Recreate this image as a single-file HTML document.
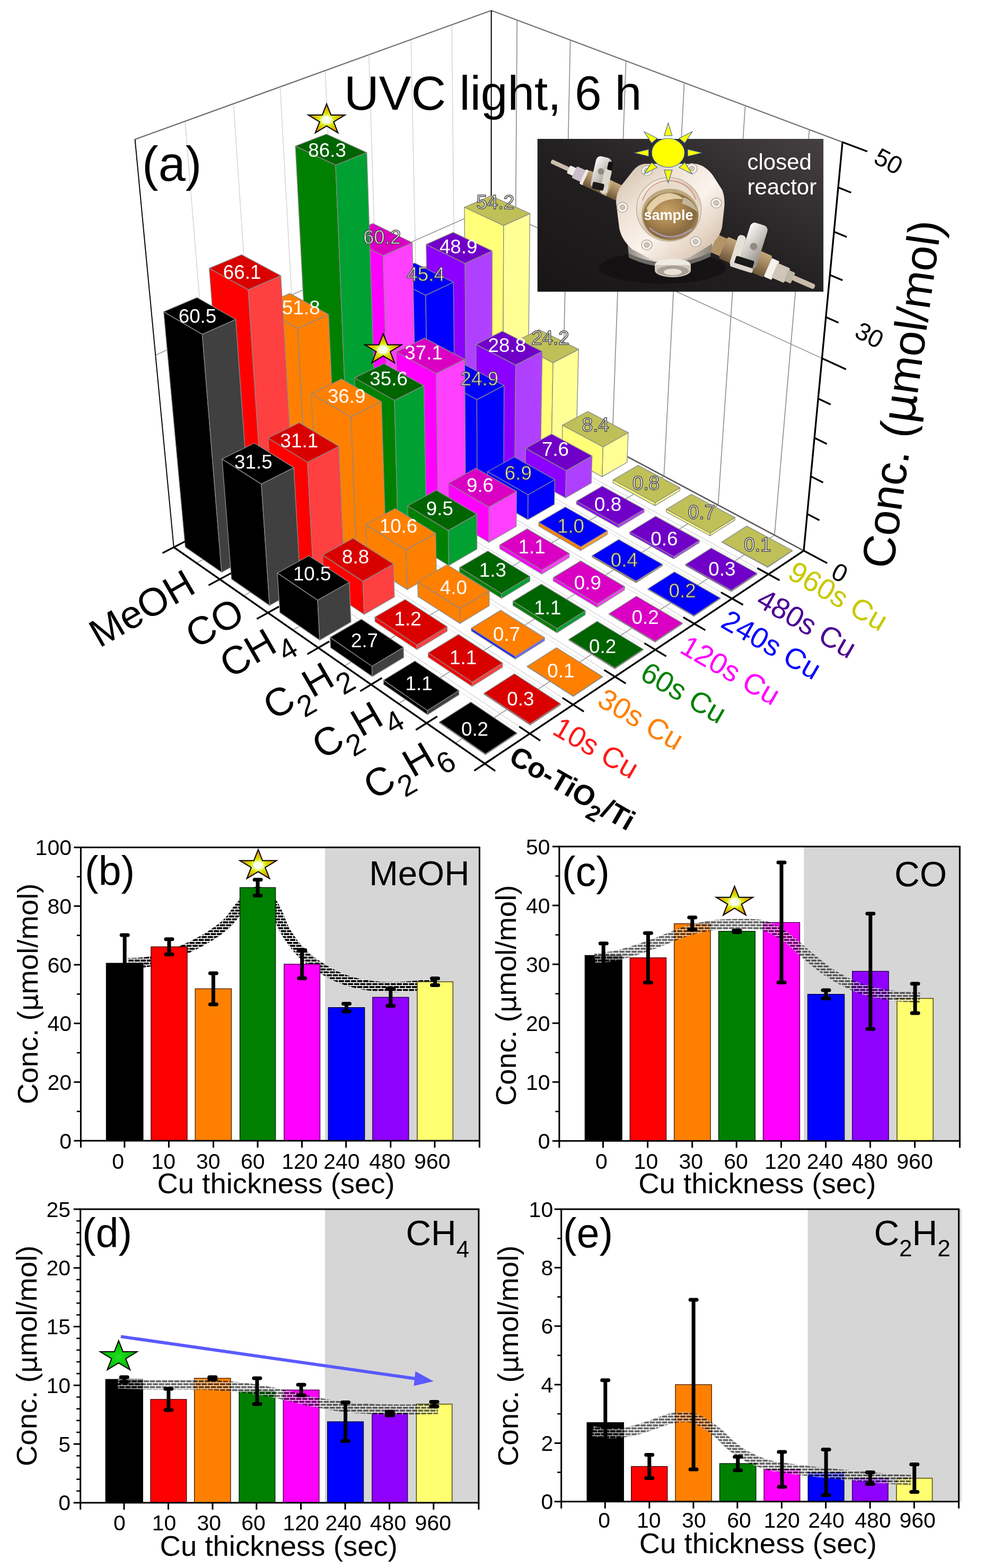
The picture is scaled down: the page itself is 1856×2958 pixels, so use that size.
<!DOCTYPE html>
<html><head><meta charset="utf-8"><title>Figure</title>
<style>
html,body{margin:0;padding:0;background:#fff;}
body{width:1856px;height:2958px;overflow:hidden;}
svg{display:block;}
text{font-family:"Liberation Sans",sans-serif;}
</style></head><body>
<svg width="1856" height="2958" viewBox="0 0 1856 2958">
<rect width="1856" height="2958" fill="#fff"/>
<defs>
<pattern id="brickB" width="11.5" height="11.1" patternUnits="userSpaceOnUse">
<rect width="11.5" height="11.1" fill="#fff"/>
<rect x="0.8" y="0.9" width="9.9" height="3.75" fill="#000"/>
<rect x="-4.95" y="6.45" width="9.9" height="3.75" fill="#000"/>
<rect x="6.55" y="6.45" width="9.9" height="3.75" fill="#000"/>
</pattern>
<pattern id="brickG" width="11.5" height="11.1" patternUnits="userSpaceOnUse">
<rect x="0" y="0" width="11.5" height="0.9" fill="#fff" fill-opacity="0.66"/>
<rect x="0" y="4.65" width="11.5" height="1.8" fill="#fff" fill-opacity="0.66"/>
<rect x="0" y="10.2" width="11.5" height="0.9" fill="#fff" fill-opacity="0.66"/>
<rect x="0" y="0.9" width="0.8" height="3.75" fill="#fff" fill-opacity="0.66"/>
<rect x="10.7" y="0.9" width="0.8" height="3.75" fill="#fff" fill-opacity="0.66"/>
<rect x="4.95" y="6.45" width="1.6" height="3.75" fill="#fff" fill-opacity="0.66"/>
<rect x="0.8" y="0.9" width="9.9" height="3.75" fill="#000" fill-opacity="0.6"/>
<rect x="0" y="6.45" width="4.95" height="3.75" fill="#000" fill-opacity="0.6"/>
<rect x="6.55" y="6.45" width="4.95" height="3.75" fill="#000" fill-opacity="0.6"/>
</pattern>
<radialGradient id="starY" cx="0.5" cy="0.55" r="0.5">
<stop offset="0" stop-color="#fbfff0"/><stop offset="0.22" stop-color="#f8ffe8"/><stop offset="0.42" stop-color="#d8e800"/><stop offset="0.7" stop-color="#e0b800"/><stop offset="1" stop-color="#f07800"/>
</radialGradient>
<radialGradient id="starG" cx="0.5" cy="0.55" r="0.5">
<stop offset="0" stop-color="#20e020"/><stop offset="1" stop-color="#00b400"/>
</radialGradient>
</defs>
<g id="walls">
<line x1="254.6" y1="262.9" x2="926.7" y2="19.7" stroke="#6e6e6e" stroke-width="2.2" />
<line x1="926.7" y1="19.7" x2="1589.1" y2="268.1" stroke="#6e6e6e" stroke-width="2.2" />
<line x1="411.0" y1="989.6" x2="349.1" y2="228.7" stroke="#b0b0b0" stroke-width="1.6" stroke-dasharray="1.2 1.2"/>
<line x1="491.5" y1="948.1" x2="440.3" y2="195.7" stroke="#b0b0b0" stroke-width="1.6" stroke-dasharray="1.2 1.2"/>
<line x1="569.6" y1="908.0" x2="528.4" y2="163.8" stroke="#b0b0b0" stroke-width="1.6" stroke-dasharray="1.2 1.2"/>
<line x1="645.3" y1="869.0" x2="613.5" y2="133.0" stroke="#b0b0b0" stroke-width="1.6" stroke-dasharray="1.2 1.2"/>
<line x1="718.7" y1="831.3" x2="695.7" y2="103.3" stroke="#b0b0b0" stroke-width="1.6" stroke-dasharray="1.2 1.2"/>
<line x1="790.0" y1="794.6" x2="775.2" y2="74.5" stroke="#b0b0b0" stroke-width="1.6" stroke-dasharray="1.2 1.2"/>
<line x1="859.2" y1="759.0" x2="852.2" y2="46.6" stroke="#b0b0b0" stroke-width="1.6" stroke-dasharray="1.2 1.2"/>
<line x1="970.2" y1="747.8" x2="975.3" y2="37.9" stroke="#8c8c8c" stroke-width="1.6" />
<line x1="1060.5" y1="796.0" x2="1075.7" y2="75.6" stroke="#8c8c8c" stroke-width="1.6" />
<line x1="1154.4" y1="846.1" x2="1180.7" y2="114.9" stroke="#8c8c8c" stroke-width="1.6" />
<line x1="1252.3" y1="898.3" x2="1290.6" y2="156.2" stroke="#8c8c8c" stroke-width="1.6" />
<line x1="1354.4" y1="952.7" x2="1405.7" y2="199.3" stroke="#8c8c8c" stroke-width="1.6" />
<line x1="1460.9" y1="1009.5" x2="1526.5" y2="244.7" stroke="#8c8c8c" stroke-width="1.6" />
<line x1="293.3" y1="669.9" x2="926.6" y2="390.0" stroke="#8c8c8c" stroke-width="1.4" />
<line x1="926.6" y1="390.0" x2="1550.4" y2="675.9" stroke="#8c8c8c" stroke-width="1.4" />
<line x1="926.4" y1="724.4" x2="1516.0" y2="1038.9" stroke="#5a5a5a" stroke-width="2.6" />
<line x1="327.8" y1="1032.4" x2="926.4" y2="724.4" stroke="#6e6e6e" stroke-width="2" />
<line x1="926.4" y1="724.4" x2="926.7" y2="19.7" stroke="#000" stroke-width="2" />
<line x1="327.8" y1="1032.4" x2="254.6" y2="262.9" stroke="#000" stroke-width="1.9" />
<line x1="370.7" y1="1062.2" x2="970.2" y2="747.8" stroke="#8c8c8c" stroke-width="1.4" />
<line x1="459.5" y1="1124.0" x2="1060.5" y2="796.0" stroke="#8c8c8c" stroke-width="1.4" />
<line x1="552.3" y1="1188.6" x2="1154.4" y2="846.1" stroke="#8c8c8c" stroke-width="1.4" />
<line x1="649.6" y1="1256.3" x2="1252.3" y2="898.3" stroke="#8c8c8c" stroke-width="1.4" />
<line x1="751.7" y1="1327.3" x2="1354.4" y2="952.7" stroke="#8c8c8c" stroke-width="1.4" />
<line x1="858.8" y1="1401.9" x2="1460.9" y2="1009.5" stroke="#8c8c8c" stroke-width="1.4" />
<line x1="411.0" y1="989.6" x2="999.3" y2="1383.9" stroke="#b0b0b0" stroke-width="1.4" stroke-dasharray="1.2 1.2"/>
<line x1="404.4" y1="993.0" x2="992.6" y2="1388.4" stroke="#c8c8c8" stroke-width="1.2" stroke-dasharray="1.2 1.2"/>
<line x1="491.5" y1="948.1" x2="1081.0" y2="1329.3" stroke="#b0b0b0" stroke-width="1.4" stroke-dasharray="1.2 1.2"/>
<line x1="485.2" y1="951.4" x2="1074.6" y2="1333.6" stroke="#c8c8c8" stroke-width="1.2" stroke-dasharray="1.2 1.2"/>
<line x1="569.6" y1="908.0" x2="1159.9" y2="1276.6" stroke="#b0b0b0" stroke-width="1.4" stroke-dasharray="1.2 1.2"/>
<line x1="563.5" y1="911.2" x2="1153.7" y2="1280.8" stroke="#c8c8c8" stroke-width="1.2" stroke-dasharray="1.2 1.2"/>
<line x1="645.3" y1="869.0" x2="1236.1" y2="1225.8" stroke="#b0b0b0" stroke-width="1.4" stroke-dasharray="1.2 1.2"/>
<line x1="639.3" y1="872.1" x2="1230.1" y2="1229.8" stroke="#c8c8c8" stroke-width="1.2" stroke-dasharray="1.2 1.2"/>
<line x1="718.7" y1="831.3" x2="1309.6" y2="1176.7" stroke="#b0b0b0" stroke-width="1.4" stroke-dasharray="1.2 1.2"/>
<line x1="712.9" y1="834.2" x2="1303.8" y2="1180.5" stroke="#c8c8c8" stroke-width="1.2" stroke-dasharray="1.2 1.2"/>
<line x1="790.0" y1="794.6" x2="1380.7" y2="1129.2" stroke="#b0b0b0" stroke-width="1.4" stroke-dasharray="1.2 1.2"/>
<line x1="784.4" y1="797.5" x2="1375.1" y2="1132.9" stroke="#c8c8c8" stroke-width="1.2" stroke-dasharray="1.2 1.2"/>
<line x1="859.2" y1="759.0" x2="1449.4" y2="1083.3" stroke="#b0b0b0" stroke-width="1.4" stroke-dasharray="1.2 1.2"/>
<line x1="853.7" y1="761.8" x2="1444.0" y2="1086.9" stroke="#c8c8c8" stroke-width="1.2" stroke-dasharray="1.2 1.2"/>
</g>
<g id="bars">
<polygon points="878.5,758.8 948.4,797.0 949.9,425.3 876.0,391.0" fill="#ffff78" stroke="#8a8a8a" stroke-width="1.3" stroke-linejoin="round" />
<polygon points="948.4,797.0 995.5,771.9 999.6,402.8 949.9,425.3" fill="#ffff96" stroke="#8a8a8a" stroke-width="1.3" stroke-linejoin="round" />
<polygon points="876.0,391.0 949.9,425.3 999.6,402.8 925.7,369.3" fill="#c0c058" stroke="#8a8a8a" stroke-width="1.3" stroke-linejoin="round" />
<polygon points="809.6,794.3 879.5,833.7 877.2,496.9 803.8,461.1" fill="#8c00ff" stroke="#8a8a8a" stroke-width="1.3" stroke-linejoin="round" />
<polygon points="879.5,833.7 927.9,807.9 928.2,473.4 877.2,496.9" fill="#b040ff" stroke="#8a8a8a" stroke-width="1.3" stroke-linejoin="round" />
<polygon points="803.8,461.1 877.2,496.9 928.2,473.4 854.8,438.4" fill="#7000c8" stroke="#8a8a8a" stroke-width="1.3" stroke-linejoin="round" />
<polygon points="738.7,831.0 808.4,871.6 802.8,556.9 729.8,519.7" fill="#0000ff" stroke="#8a8a8a" stroke-width="1.3" stroke-linejoin="round" />
<polygon points="808.4,871.6 858.4,844.9 855.2,532.5 802.8,556.9" fill="#0000ff" stroke="#8a8a8a" stroke-width="1.3" stroke-linejoin="round" />
<polygon points="729.8,519.7 802.8,556.9 855.2,532.5 782.1,496.1" fill="#0000ff" stroke="#8a8a8a" stroke-width="1.3" stroke-linejoin="round" />
<polygon points="665.5,868.8 735.2,910.6 722.5,482.2 648.6,445.0" fill="#ff00ff" stroke="#8a8a8a" stroke-width="1.3" stroke-linejoin="round" />
<polygon points="735.2,910.6 786.7,883.1 777.6,457.8 722.5,482.2" fill="#ff40ff" stroke="#8a8a8a" stroke-width="1.3" stroke-linejoin="round" />
<polygon points="648.6,445.0 722.5,482.2 777.6,457.8 703.5,421.5" fill="#d900c3" stroke="#8a8a8a" stroke-width="1.3" stroke-linejoin="round" />
<polygon points="590.2,907.7 659.6,950.8 633.0,311.4 557.2,275.6" fill="#008000" stroke="#8a8a8a" stroke-width="1.3" stroke-linejoin="round" />
<polygon points="659.6,950.8 712.7,922.5 691.8,287.9 633.0,311.4" fill="#00a032" stroke="#8a8a8a" stroke-width="1.3" stroke-linejoin="round" />
<polygon points="557.2,275.6 633.0,311.4 691.8,287.9 615.8,253.0" fill="#006400" stroke="#8a8a8a" stroke-width="1.3" stroke-linejoin="round" />
<polygon points="512.4,947.8 581.6,992.4 561.4,619.6 488.6,579.2" fill="#ff8000" stroke="#8a8a8a" stroke-width="1.3" stroke-linejoin="round" />
<polygon points="581.6,992.4 636.5,963.1 619.7,593.1 561.4,619.6" fill="#ff8000" stroke="#8a8a8a" stroke-width="1.3" stroke-linejoin="round" />
<polygon points="488.6,579.2 561.4,619.6 619.7,593.1 546.6,553.6" fill="#ff8000" stroke="#8a8a8a" stroke-width="1.3" stroke-linejoin="round" />
<polygon points="432.2,989.3 501.1,1035.2 468.2,546.6 394.6,506.1" fill="#ff0000" stroke="#8a8a8a" stroke-width="1.3" stroke-linejoin="round" />
<polygon points="501.1,1035.2 557.8,1005.1 529.6,520.1 468.2,546.6" fill="#ff4040" stroke="#8a8a8a" stroke-width="1.3" stroke-linejoin="round" />
<polygon points="394.6,506.1 468.2,546.6 529.6,520.1 455.7,480.5" fill="#d90000" stroke="#8a8a8a" stroke-width="1.3" stroke-linejoin="round" />
<polygon points="349.4,1032.1 418.0,1079.5 381.5,630.6 308.7,588.1" fill="#000000" stroke="#8a8a8a" stroke-width="1.3" stroke-linejoin="round" />
<polygon points="418.0,1079.5 476.5,1048.4 444.6,602.7 381.5,630.6" fill="#404040" stroke="#8a8a8a" stroke-width="1.3" stroke-linejoin="round" />
<polygon points="308.7,588.1 381.5,630.6 444.6,602.7 371.5,561.3" fill="#000000" stroke="#8a8a8a" stroke-width="1.3" stroke-linejoin="round" />
<polygon points="967.4,807.3 1040.1,847.1 1043.1,684.2 968.5,646.0" fill="#ffff78" stroke="#8a8a8a" stroke-width="1.3" stroke-linejoin="round" />
<polygon points="1040.1,847.1 1087.2,821.0 1091.3,659.2 1043.1,684.2" fill="#ffff96" stroke="#8a8a8a" stroke-width="1.3" stroke-linejoin="round" />
<polygon points="968.5,646.0 1043.1,684.2 1091.3,659.2 1016.7,621.8" fill="#c0c058" stroke="#8a8a8a" stroke-width="1.3" stroke-linejoin="round" />
<polygon points="898.4,844.4 971.1,885.4 972.6,688.6 897.7,649.6" fill="#8c00ff" stroke="#8a8a8a" stroke-width="1.3" stroke-linejoin="round" />
<polygon points="971.1,885.4 1019.6,858.5 1022.6,663.0 972.6,688.6" fill="#b040ff" stroke="#8a8a8a" stroke-width="1.3" stroke-linejoin="round" />
<polygon points="897.7,649.6 972.6,688.6 1022.6,663.0 947.6,624.9" fill="#7000c8" stroke="#8a8a8a" stroke-width="1.3" stroke-linejoin="round" />
<polygon points="827.3,882.6 900.0,924.9 899.4,753.8 824.8,713.3" fill="#0000ff" stroke="#8a8a8a" stroke-width="1.3" stroke-linejoin="round" />
<polygon points="900.0,924.9 950.0,897.1 950.7,727.2 899.4,753.8" fill="#0000ff" stroke="#8a8a8a" stroke-width="1.3" stroke-linejoin="round" />
<polygon points="824.8,713.3 899.4,753.8 950.7,727.2 876.1,687.6" fill="#0000ff" stroke="#8a8a8a" stroke-width="1.3" stroke-linejoin="round" />
<polygon points="754.0,921.9 826.6,965.6 822.7,704.7 747.2,663.8" fill="#ff00ff" stroke="#8a8a8a" stroke-width="1.3" stroke-linejoin="round" />
<polygon points="826.6,965.6 878.2,936.9 876.4,677.9 822.7,704.7" fill="#ff40ff" stroke="#8a8a8a" stroke-width="1.3" stroke-linejoin="round" />
<polygon points="747.2,663.8 822.7,704.7 876.4,677.9 800.9,637.9" fill="#d900c3" stroke="#8a8a8a" stroke-width="1.3" stroke-linejoin="round" />
<polygon points="678.5,962.5 750.9,1007.6 744.0,755.2 668.8,712.8" fill="#008000" stroke="#8a8a8a" stroke-width="1.3" stroke-linejoin="round" />
<polygon points="750.9,1007.6 804.2,978.0 799.5,727.4 744.0,755.2" fill="#00a032" stroke="#8a8a8a" stroke-width="1.3" stroke-linejoin="round" />
<polygon points="668.8,712.8 744.0,755.2 799.5,727.4 724.1,686.0" fill="#006400" stroke="#8a8a8a" stroke-width="1.3" stroke-linejoin="round" />
<polygon points="600.4,1004.4 672.7,1050.9 662.1,786.3 587.0,742.7" fill="#ff8000" stroke="#8a8a8a" stroke-width="1.3" stroke-linejoin="round" />
<polygon points="672.7,1050.9 727.7,1020.4 719.5,757.7 662.1,786.3" fill="#ff8000" stroke="#8a8a8a" stroke-width="1.3" stroke-linejoin="round" />
<polygon points="587.0,742.7 662.1,786.3 719.5,757.7 644.3,715.0" fill="#ff8000" stroke="#8a8a8a" stroke-width="1.3" stroke-linejoin="round" />
<polygon points="519.9,1047.7 591.9,1095.8 580.0,872.0 505.6,826.3" fill="#ff0000" stroke="#8a8a8a" stroke-width="1.3" stroke-linejoin="round" />
<polygon points="591.9,1095.8 648.8,1064.2 639.0,842.0 580.0,872.0" fill="#ff4040" stroke="#8a8a8a" stroke-width="1.3" stroke-linejoin="round" />
<polygon points="505.6,826.3 580.0,872.0 639.0,842.0 564.4,797.4" fill="#d90000" stroke="#8a8a8a" stroke-width="1.3" stroke-linejoin="round" />
<polygon points="436.6,1092.4 508.4,1142.1 493.0,913.1 418.9,865.9" fill="#000000" stroke="#8a8a8a" stroke-width="1.3" stroke-linejoin="round" />
<polygon points="508.4,1142.1 567.2,1109.5 554.1,882.1 493.0,913.1" fill="#404040" stroke="#8a8a8a" stroke-width="1.3" stroke-linejoin="round" />
<polygon points="418.9,865.9 493.0,913.1 554.1,882.1 479.7,836.0" fill="#000000" stroke="#8a8a8a" stroke-width="1.3" stroke-linejoin="round" />
<polygon points="1059.9,857.9 1135.7,899.4 1137.5,843.0 1061.0,802.1" fill="#ffff78" stroke="#8a8a8a" stroke-width="1.3" stroke-linejoin="round" />
<polygon points="1135.7,899.4 1182.7,872.2 1184.9,816.2 1137.5,843.0" fill="#ffff96" stroke="#8a8a8a" stroke-width="1.3" stroke-linejoin="round" />
<polygon points="1061.0,802.1 1137.5,843.0 1184.9,816.2 1108.5,776.2" fill="#c0c058" stroke="#8a8a8a" stroke-width="1.3" stroke-linejoin="round" />
<polygon points="990.9,896.5 1066.7,939.3 1067.9,887.9 991.4,845.6" fill="#8c00ff" stroke="#8a8a8a" stroke-width="1.3" stroke-linejoin="round" />
<polygon points="1066.7,939.3 1115.2,911.2 1116.7,860.1 1067.9,887.9" fill="#b040ff" stroke="#8a8a8a" stroke-width="1.3" stroke-linejoin="round" />
<polygon points="991.4,845.6 1067.9,887.9 1116.7,860.1 1040.3,818.8" fill="#7000c8" stroke="#8a8a8a" stroke-width="1.3" stroke-linejoin="round" />
<polygon points="919.7,936.3 995.6,980.4 996.1,933.3 919.7,889.7" fill="#0000ff" stroke="#8a8a8a" stroke-width="1.3" stroke-linejoin="round" />
<polygon points="995.6,980.4 1045.6,951.5 1046.5,904.7 996.1,933.3" fill="#0000ff" stroke="#8a8a8a" stroke-width="1.3" stroke-linejoin="round" />
<polygon points="919.7,889.7 996.1,933.3 1046.5,904.7 970.1,862.0" fill="#0000ff" stroke="#8a8a8a" stroke-width="1.3" stroke-linejoin="round" />
<polygon points="846.4,977.4 922.1,1022.9 922.1,956.6 845.6,911.7" fill="#ff00ff" stroke="#8a8a8a" stroke-width="1.3" stroke-linejoin="round" />
<polygon points="922.1,1022.9 973.8,993.0 974.3,927.1 922.1,956.6" fill="#ff40ff" stroke="#8a8a8a" stroke-width="1.3" stroke-linejoin="round" />
<polygon points="845.6,911.7 922.1,956.6 974.3,927.1 897.7,883.3" fill="#d900c3" stroke="#8a8a8a" stroke-width="1.3" stroke-linejoin="round" />
<polygon points="770.6,1019.8 846.3,1066.8 845.5,1000.6 769.0,954.2" fill="#008000" stroke="#8a8a8a" stroke-width="1.3" stroke-linejoin="round" />
<polygon points="846.3,1066.8 899.6,1035.9 899.4,970.1 845.5,1000.6" fill="#00a032" stroke="#8a8a8a" stroke-width="1.3" stroke-linejoin="round" />
<polygon points="769.0,954.2 845.5,1000.6 899.4,970.1 822.9,924.8" fill="#006400" stroke="#8a8a8a" stroke-width="1.3" stroke-linejoin="round" />
<polygon points="692.4,1063.6 767.9,1112.2 766.0,1037.4 689.6,989.6" fill="#ff8000" stroke="#8a8a8a" stroke-width="1.3" stroke-linejoin="round" />
<polygon points="767.9,1112.2 823.0,1080.3 821.9,1006.0 766.0,1037.4" fill="#ff8000" stroke="#8a8a8a" stroke-width="1.3" stroke-linejoin="round" />
<polygon points="689.6,989.6 766.0,1037.4 821.9,1006.0 745.3,959.3" fill="#ff8000" stroke="#8a8a8a" stroke-width="1.3" stroke-linejoin="round" />
<polygon points="611.5,1108.8 686.9,1159.0 684.5,1096.6 608.4,1046.9" fill="#ff0000" stroke="#8a8a8a" stroke-width="1.3" stroke-linejoin="round" />
<polygon points="686.9,1159.0 743.9,1126.1 742.1,1064.0 684.5,1096.6" fill="#ff4040" stroke="#8a8a8a" stroke-width="1.3" stroke-linejoin="round" />
<polygon points="608.4,1046.9 684.5,1096.6 742.1,1064.0 665.9,1015.5" fill="#d90000" stroke="#8a8a8a" stroke-width="1.3" stroke-linejoin="round" />
<polygon points="527.9,1155.6 603.0,1207.6 599.1,1132.1 523.1,1080.9" fill="#000000" stroke="#8a8a8a" stroke-width="1.3" stroke-linejoin="round" />
<polygon points="603.0,1207.6 662.0,1173.4 658.8,1098.5 599.1,1132.1" fill="#404040" stroke="#8a8a8a" stroke-width="1.3" stroke-linejoin="round" />
<polygon points="523.1,1080.9 599.1,1132.1 658.8,1098.5 582.7,1048.5" fill="#000000" stroke="#8a8a8a" stroke-width="1.3" stroke-linejoin="round" />
<polygon points="1156.2,910.6 1235.3,953.9 1235.6,948.5 1156.4,905.3" fill="#ffff78" stroke="#8a8a8a" stroke-width="1.3" stroke-linejoin="round" />
<polygon points="1235.3,953.9 1282.2,925.5 1282.5,920.1 1235.6,948.5" fill="#ffff96" stroke="#8a8a8a" stroke-width="1.3" stroke-linejoin="round" />
<polygon points="1156.4,905.3 1235.6,948.5 1282.5,920.1 1203.5,877.9" fill="#c0c058" stroke="#8a8a8a" stroke-width="1.3" stroke-linejoin="round" />
<polygon points="1087.3,950.9 1166.4,995.5 1166.6,990.1 1087.4,945.5" fill="#8c00ff" stroke="#8a8a8a" stroke-width="1.3" stroke-linejoin="round" />
<polygon points="1166.4,995.5 1214.9,966.2 1215.1,960.8 1166.6,990.1" fill="#b040ff" stroke="#8a8a8a" stroke-width="1.3" stroke-linejoin="round" />
<polygon points="1087.4,945.5 1166.6,990.1 1215.1,960.8 1136.0,917.2" fill="#7000c8" stroke="#8a8a8a" stroke-width="1.3" stroke-linejoin="round" />
<polygon points="1016.2,992.4 1095.3,1038.5 1095.5,1031.6 1016.3,985.6" fill="#ff8000" stroke="#8a8a8a" stroke-width="1.3" stroke-linejoin="round" />
<polygon points="1095.3,1038.5 1145.4,1008.3 1145.6,1001.4 1095.5,1031.6" fill="#ff9a30" stroke="#8a8a8a" stroke-width="1.3" stroke-linejoin="round" />
<polygon points="1016.3,985.6 1095.5,1031.6 1145.6,1001.4 1066.4,956.5" fill="#0000ff" stroke="#8a8a8a" stroke-width="1.3" stroke-linejoin="round" />
<polygon points="942.7,1035.3 1021.9,1082.9 1022.0,1075.3 942.7,1027.8" fill="#ff00ff" stroke="#8a8a8a" stroke-width="1.3" stroke-linejoin="round" />
<polygon points="1021.9,1082.9 1073.6,1051.7 1073.8,1044.1 1022.0,1075.3" fill="#ff40ff" stroke="#8a8a8a" stroke-width="1.3" stroke-linejoin="round" />
<polygon points="942.7,1027.8 1022.0,1075.3 1073.8,1044.1 994.5,997.6" fill="#d900c3" stroke="#8a8a8a" stroke-width="1.3" stroke-linejoin="round" />
<polygon points="866.9,1079.6 946.0,1128.8 946.0,1119.7 866.8,1070.6" fill="#008000" stroke="#8a8a8a" stroke-width="1.3" stroke-linejoin="round" />
<polygon points="946.0,1128.8 999.4,1096.5 999.5,1087.5 946.0,1119.7" fill="#00a032" stroke="#8a8a8a" stroke-width="1.3" stroke-linejoin="round" />
<polygon points="866.8,1070.6 946.0,1119.7 999.5,1087.5 920.2,1039.5" fill="#006400" stroke="#8a8a8a" stroke-width="1.3" stroke-linejoin="round" />
<polygon points="788.5,1125.4 867.5,1176.2 867.3,1147.9 787.8,1097.3" fill="#ff8000" stroke="#8a8a8a" stroke-width="1.3" stroke-linejoin="round" />
<polygon points="867.5,1176.2 922.7,1142.8 922.7,1114.7 867.3,1147.9" fill="#ff8000" stroke="#8a8a8a" stroke-width="1.3" stroke-linejoin="round" />
<polygon points="787.8,1097.3 867.3,1147.9 922.7,1114.7 843.3,1065.3" fill="#ff8000" stroke="#8a8a8a" stroke-width="1.3" stroke-linejoin="round" />
<polygon points="707.4,1172.7 786.3,1225.3 786.1,1216.8 707.1,1164.2" fill="#ff0000" stroke="#8a8a8a" stroke-width="1.3" stroke-linejoin="round" />
<polygon points="786.3,1225.3 843.4,1190.8 843.3,1182.3 786.1,1216.8" fill="#ff4040" stroke="#8a8a8a" stroke-width="1.3" stroke-linejoin="round" />
<polygon points="707.1,1164.2 786.1,1216.8 843.3,1182.3 764.2,1131.0" fill="#d90000" stroke="#8a8a8a" stroke-width="1.3" stroke-linejoin="round" />
<polygon points="623.5,1221.7 702.2,1276.2 701.5,1256.7 622.5,1202.4" fill="#000000" stroke="#8a8a8a" stroke-width="1.3" stroke-linejoin="round" />
<polygon points="702.2,1276.2 761.4,1240.4 760.9,1221.1 701.5,1256.7" fill="#404040" stroke="#8a8a8a" stroke-width="1.3" stroke-linejoin="round" />
<polygon points="622.5,1202.4 701.5,1256.7 760.9,1221.1 681.7,1168.1" fill="#000000" stroke="#8a8a8a" stroke-width="1.3" stroke-linejoin="round" />
<polygon points="1256.8,965.6 1339.3,1010.7 1339.6,1006.0 1257.0,960.9" fill="#ffff78" stroke="#8a8a8a" stroke-width="1.3" stroke-linejoin="round" />
<polygon points="1339.3,1010.7 1386.0,981.1 1386.4,976.4 1339.6,1006.0" fill="#ffff96" stroke="#8a8a8a" stroke-width="1.3" stroke-linejoin="round" />
<polygon points="1257.0,960.9 1339.6,1006.0 1386.4,976.4 1303.9,932.3" fill="#c0c058" stroke="#8a8a8a" stroke-width="1.3" stroke-linejoin="round" />
<polygon points="1187.9,1007.6 1270.6,1054.2 1270.8,1050.1 1188.1,1003.5" fill="#8c00ff" stroke="#8a8a8a" stroke-width="1.3" stroke-linejoin="round" />
<polygon points="1270.6,1054.2 1318.9,1023.6 1319.2,1019.5 1270.8,1050.1" fill="#b040ff" stroke="#8a8a8a" stroke-width="1.3" stroke-linejoin="round" />
<polygon points="1188.1,1003.5 1270.8,1050.1 1319.2,1019.5 1236.5,974.0" fill="#7000c8" stroke="#8a8a8a" stroke-width="1.3" stroke-linejoin="round" />
<polygon points="1116.9,1051.0 1199.6,1099.1 1199.7,1096.4 1116.9,1048.2" fill="#c08040" stroke="#8a8a8a" stroke-width="1.3" stroke-linejoin="round" />
<polygon points="1199.6,1099.1 1249.5,1067.5 1249.7,1064.8 1199.7,1096.4" fill="#c0a090" stroke="#8a8a8a" stroke-width="1.3" stroke-linejoin="round" />
<polygon points="1116.9,1048.2 1199.7,1096.4 1249.7,1064.8 1167.0,1017.8" fill="#0000ff" stroke="#8a8a8a" stroke-width="1.3" stroke-linejoin="round" />
<polygon points="1043.4,1095.8 1126.3,1145.6 1126.5,1139.3 1043.6,1089.6" fill="#ff00ff" stroke="#8a8a8a" stroke-width="1.3" stroke-linejoin="round" />
<polygon points="1126.3,1145.6 1177.9,1112.9 1178.1,1106.6 1126.5,1139.3" fill="#ff40ff" stroke="#8a8a8a" stroke-width="1.3" stroke-linejoin="round" />
<polygon points="1043.6,1089.6 1126.5,1139.3 1178.1,1106.6 1095.3,1058.1" fill="#d900c3" stroke="#8a8a8a" stroke-width="1.3" stroke-linejoin="round" />
<polygon points="967.5,1142.1 1050.4,1193.6 1050.5,1185.8 967.6,1134.4" fill="#008000" stroke="#8a8a8a" stroke-width="1.3" stroke-linejoin="round" />
<polygon points="1050.4,1193.6 1103.8,1159.8 1104.0,1152.1 1050.5,1185.8" fill="#00a032" stroke="#8a8a8a" stroke-width="1.3" stroke-linejoin="round" />
<polygon points="967.6,1134.4 1050.5,1185.8 1104.0,1152.1 1021.1,1101.9" fill="#006400" stroke="#8a8a8a" stroke-width="1.3" stroke-linejoin="round" />
<polygon points="889.0,1190.1 971.9,1243.3 971.9,1238.3 889.0,1185.1" fill="#2020ff" stroke="#8a8a8a" stroke-width="1.3" stroke-linejoin="round" />
<polygon points="971.9,1243.3 1027.1,1208.4 1027.2,1203.4 971.9,1238.3" fill="#6a6aff" stroke="#8a8a8a" stroke-width="1.3" stroke-linejoin="round" />
<polygon points="889.0,1185.1 971.9,1238.3 1027.2,1203.4 944.3,1151.4" fill="#ff8000" stroke="#8a8a8a" stroke-width="1.3" stroke-linejoin="round" />
<polygon points="807.8,1239.7 890.5,1294.8 890.5,1286.9 807.6,1231.8" fill="#ff0000" stroke="#8a8a8a" stroke-width="1.3" stroke-linejoin="round" />
<polygon points="890.5,1294.8 947.8,1258.6 947.8,1250.7 890.5,1286.9" fill="#ff4040" stroke="#8a8a8a" stroke-width="1.3" stroke-linejoin="round" />
<polygon points="807.6,1231.8 890.5,1286.9 947.8,1250.7 864.9,1196.9" fill="#d90000" stroke="#8a8a8a" stroke-width="1.3" stroke-linejoin="round" />
<polygon points="723.6,1291.0 806.3,1348.2 806.1,1340.2 723.4,1283.1" fill="#000000" stroke="#8a8a8a" stroke-width="1.3" stroke-linejoin="round" />
<polygon points="806.3,1348.2 865.6,1310.6 865.5,1302.7 806.1,1340.2" fill="#404040" stroke="#8a8a8a" stroke-width="1.3" stroke-linejoin="round" />
<polygon points="723.4,1283.1 806.1,1340.2 865.5,1302.7 782.7,1247.0" fill="#000000" stroke="#8a8a8a" stroke-width="1.3" stroke-linejoin="round" />
<polygon points="1361.7,1023.0 1447.9,1070.1 1447.9,1069.4 1361.7,1022.3" fill="#ffff78" stroke="#8a8a8a" stroke-width="1.3" stroke-linejoin="round" />
<polygon points="1447.9,1070.1 1494.5,1039.2 1494.5,1038.5 1447.9,1069.4" fill="#ffff96" stroke="#8a8a8a" stroke-width="1.3" stroke-linejoin="round" />
<polygon points="1361.7,1022.3 1447.9,1069.4 1494.5,1038.5 1408.5,992.4" fill="#c0c058" stroke="#8a8a8a" stroke-width="1.3" stroke-linejoin="round" />
<polygon points="1293.0,1066.9 1379.5,1115.6 1379.6,1113.5 1293.2,1064.8" fill="#8c00ff" stroke="#8a8a8a" stroke-width="1.3" stroke-linejoin="round" />
<polygon points="1379.5,1115.6 1427.6,1083.6 1427.8,1081.5 1379.6,1113.5" fill="#b040ff" stroke="#8a8a8a" stroke-width="1.3" stroke-linejoin="round" />
<polygon points="1293.2,1064.8 1379.6,1113.5 1427.8,1081.5 1341.5,1034.0" fill="#7000c8" stroke="#8a8a8a" stroke-width="1.3" stroke-linejoin="round" />
<polygon points="1222.1,1112.2 1308.7,1162.6 1308.8,1161.2 1222.2,1110.8" fill="#0000ff" stroke="#8a8a8a" stroke-width="1.3" stroke-linejoin="round" />
<polygon points="1308.7,1162.6 1358.5,1129.5 1358.6,1128.1 1308.8,1161.2" fill="#0000ff" stroke="#8a8a8a" stroke-width="1.3" stroke-linejoin="round" />
<polygon points="1222.2,1110.8 1308.8,1161.2 1358.6,1128.1 1272.1,1078.9" fill="#0000ff" stroke="#8a8a8a" stroke-width="1.3" stroke-linejoin="round" />
<polygon points="1148.8,1159.1 1235.5,1211.2 1235.6,1209.8 1148.8,1157.7" fill="#ff00ff" stroke="#8a8a8a" stroke-width="1.3" stroke-linejoin="round" />
<polygon points="1235.5,1211.2 1287.0,1177.0 1287.1,1175.6 1235.6,1209.8" fill="#ff40ff" stroke="#8a8a8a" stroke-width="1.3" stroke-linejoin="round" />
<polygon points="1148.8,1157.7 1235.6,1209.8 1287.1,1175.6 1200.4,1124.7" fill="#d900c3" stroke="#8a8a8a" stroke-width="1.3" stroke-linejoin="round" />
<polygon points="1072.9,1207.6 1159.7,1261.6 1159.8,1260.1 1073.0,1206.2" fill="#008000" stroke="#8a8a8a" stroke-width="1.3" stroke-linejoin="round" />
<polygon points="1159.7,1261.6 1213.1,1226.1 1213.1,1224.7 1159.8,1260.1" fill="#00a032" stroke="#8a8a8a" stroke-width="1.3" stroke-linejoin="round" />
<polygon points="1073.0,1206.2 1159.8,1260.1 1213.1,1224.7 1126.3,1172.1" fill="#006400" stroke="#8a8a8a" stroke-width="1.3" stroke-linejoin="round" />
<polygon points="994.4,1257.8 1081.3,1313.7 1081.3,1313.0 994.4,1257.1" fill="#ff8000" stroke="#8a8a8a" stroke-width="1.3" stroke-linejoin="round" />
<polygon points="1081.3,1313.7 1136.5,1277.0 1136.5,1276.3 1081.3,1313.0" fill="#ff8000" stroke="#8a8a8a" stroke-width="1.3" stroke-linejoin="round" />
<polygon points="994.4,1257.1 1081.3,1313.0 1136.5,1276.3 1049.7,1221.8" fill="#ff8000" stroke="#8a8a8a" stroke-width="1.3" stroke-linejoin="round" />
<polygon points="913.1,1309.8 999.9,1367.7 999.9,1365.6 913.1,1307.7" fill="#ff0000" stroke="#8a8a8a" stroke-width="1.3" stroke-linejoin="round" />
<polygon points="999.9,1367.7 1057.2,1329.7 1057.2,1327.5 999.9,1365.6" fill="#ff4040" stroke="#8a8a8a" stroke-width="1.3" stroke-linejoin="round" />
<polygon points="913.1,1307.7 999.9,1365.6 1057.2,1327.5 970.3,1271.1" fill="#d90000" stroke="#8a8a8a" stroke-width="1.3" stroke-linejoin="round" />
<polygon points="828.8,1363.7 915.6,1423.8 915.6,1422.3 828.7,1362.3" fill="#000000" stroke="#8a8a8a" stroke-width="1.3" stroke-linejoin="round" />
<polygon points="915.6,1423.8 974.9,1384.3 974.9,1382.9 915.6,1422.3" fill="#404040" stroke="#8a8a8a" stroke-width="1.3" stroke-linejoin="round" />
<polygon points="828.7,1362.3 915.6,1422.3 974.9,1382.9 888.1,1324.4" fill="#000000" stroke="#8a8a8a" stroke-width="1.3" stroke-linejoin="round" />
</g>
<g id="axes" stroke-linecap="butt">
<line x1="327.8" y1="1032.4" x2="914.4" y2="1440.6" stroke="#000" stroke-width="3.3" />
<line x1="914.4" y1="1440.6" x2="1516.0" y2="1038.9" stroke="#000" stroke-width="3.3" />
<line x1="1516.0" y1="1038.9" x2="1589.1" y2="268.1" stroke="#000" stroke-width="3.3" />
<line x1="349.2" y1="1021.4" x2="306.5" y2="1043.4" stroke="#000" stroke-width="3.3" />
<line x1="435.7" y1="1081.4" x2="393.4" y2="1104.1" stroke="#000" stroke-width="3.3" />
<line x1="526.3" y1="1144.2" x2="484.4" y2="1167.6" stroke="#000" stroke-width="3.3" />
<line x1="621.1" y1="1210.0" x2="579.6" y2="1234.1" stroke="#000" stroke-width="3.3" />
<line x1="720.5" y1="1278.9" x2="679.5" y2="1303.9" stroke="#000" stroke-width="3.3" />
<line x1="824.8" y1="1351.3" x2="784.3" y2="1377.0" stroke="#000" stroke-width="3.3" />
<line x1="934.4" y1="1427.3" x2="894.5" y2="1453.9" stroke="#000" stroke-width="3.3" />
<line x1="914.4" y1="1440.6" x2="934.1" y2="1454.3" stroke="#000" stroke-width="3.3" />
<line x1="979.3" y1="1370.6" x2="1019.2" y2="1397.3" stroke="#000" stroke-width="3.3" />
<line x1="1060.9" y1="1316.3" x2="1101.2" y2="1342.3" stroke="#000" stroke-width="3.3" />
<line x1="1139.6" y1="1263.9" x2="1180.3" y2="1289.3" stroke="#000" stroke-width="3.3" />
<line x1="1215.5" y1="1213.4" x2="1256.6" y2="1238.2" stroke="#000" stroke-width="3.3" />
<line x1="1288.9" y1="1164.5" x2="1330.4" y2="1188.8" stroke="#000" stroke-width="3.3" />
<line x1="1359.8" y1="1117.4" x2="1401.6" y2="1141.0" stroke="#000" stroke-width="3.3" />
<line x1="1428.4" y1="1071.7" x2="1470.5" y2="1094.8" stroke="#000" stroke-width="3.3" />
<line x1="1515.1" y1="1038.4" x2="1560.1" y2="1062.4" stroke="#000" stroke-width="3.3" />
<line x1="1521.6" y1="969.0" x2="1545.6" y2="981.5" stroke="#000" stroke-width="3.3" />
<line x1="1528.4" y1="898.1" x2="1552.5" y2="910.3" stroke="#000" stroke-width="3.3" />
<line x1="1535.2" y1="825.6" x2="1559.5" y2="837.5" stroke="#000" stroke-width="3.3" />
<line x1="1542.3" y1="751.4" x2="1566.7" y2="763.0" stroke="#000" stroke-width="3.3" />
<line x1="1549.5" y1="675.5" x2="1595.8" y2="696.7" stroke="#000" stroke-width="3.3" />
<line x1="1556.9" y1="597.8" x2="1581.5" y2="608.7" stroke="#000" stroke-width="3.3" />
<line x1="1564.4" y1="518.2" x2="1589.2" y2="528.8" stroke="#000" stroke-width="3.3" />
<line x1="1572.1" y1="436.8" x2="1597.1" y2="447.0" stroke="#000" stroke-width="3.3" />
<line x1="1580.0" y1="353.3" x2="1605.2" y2="363.2" stroke="#000" stroke-width="3.3" />
<line x1="1588.1" y1="267.8" x2="1635.9" y2="285.7" stroke="#000" stroke-width="3.3" />
</g>
<g id="barlabels" font-size="36.8" text-anchor="middle" fill="#fff">
<text x="934.3" y="393.8" stroke="#4a4a4a" stroke-width="1.5">54.2</text>
<text x="864.7" y="478.3">48.9</text>
<text x="803.1" y="529.8" stroke="#4a4a4a" stroke-width="1.5">45.4</text>
<text x="720.7" y="460.2" stroke="#4a4a4a" stroke-width="1.5">60.2</text>
<text x="617.1" y="295.7">86.3</text>
<text x="567.8" y="592.7">51.8</text>
<text x="456.6" y="526.1">66.1</text>
<text x="372.5" y="608.9">60.5</text>
<text x="1038.0" y="650.3" stroke="#4a4a4a" stroke-width="1.5">24.2</text>
<text x="956.3" y="663.7">28.8</text>
<text x="904.3" y="726.8" stroke="#4a4a4a" stroke-width="1.5">24.9</text>
<text x="799.1" y="678.2">37.1</text>
<text x="733.1" y="726.9">35.6</text>
<text x="653.7" y="760.3">36.9</text>
<text x="564.3" y="844.4">31.1</text>
<text x="477.9" y="884.2">31.5</text>
<text x="1123.4" y="813.8" stroke="#4a4a4a" stroke-width="1.5">8.4</text>
<text x="1047.5" y="860.3">7.6</text>
<text x="977.3" y="904.6" stroke="#4a4a4a" stroke-width="1.5">6.9</text>
<text x="905.5" y="928.2">9.6</text>
<text x="829.3" y="972.3">9.5</text>
<text x="751.5" y="1005.2">10.6</text>
<text x="670.6" y="1062.8">8.8</text>
<text x="588.7" y="1094.9">10.5</text>
<text x="1218.5" y="924.3" stroke="#4a4a4a" stroke-width="1.5">0.8</text>
<text x="1146.7" y="964.2">0.8</text>
<text x="1076.5" y="1004.6" stroke="#4a4a4a" stroke-width="1.5">1.0</text>
<text x="1003.1" y="1044.2">1.1</text>
<text x="929.3" y="1088.4">1.3</text>
<text x="855.4" y="1120.9">4.0</text>
<text x="769.2" y="1179.8">1.2</text>
<text x="687.5" y="1220.7">2.7</text>
<text x="1323.4" y="978.5" stroke="#4a4a4a" stroke-width="1.5">0.7</text>
<text x="1252.8" y="1029.1">0.6</text>
<text x="1177.3" y="1068.9" stroke="#4a4a4a" stroke-width="1.5">0.4</text>
<text x="1108.4" y="1112.2">0.9</text>
<text x="1032.8" y="1159.0">1.1</text>
<text x="955.7" y="1208.6">0.7</text>
<text x="873.7" y="1253.0">1.1</text>
<text x="790.2" y="1301.8">1.1</text>
<text x="1428.8" y="1039.5" stroke="#4a4a4a" stroke-width="1.5">0.1</text>
<text x="1361.9" y="1085.5">0.3</text>
<text x="1287.1" y="1126.5" stroke="#4a4a4a" stroke-width="1.5">0.2</text>
<text x="1217.1" y="1176.7">0.2</text>
<text x="1136.7" y="1231.5">0.2</text>
<text x="1057.8" y="1277.8">0.1</text>
<text x="981.9" y="1330.7">0.3</text>
<text x="895.5" y="1387.5">0.2</text>
</g>
<g id="xlabels" font-size="74" text-anchor="end">
<text transform="translate(372.7,1116.2) rotate(-30)">MeOH</text>
<text transform="translate(465.5,1169.5) rotate(-30)">CO</text>
<text transform="translate(553.3,1211.8) rotate(-30)">CH<tspan font-size="56" dy="25">4</tspan></text>
<text transform="translate(662.0,1275.1) rotate(-30)">C<tspan font-size="56" dy="25">2</tspan><tspan dy="-25">H</tspan><tspan font-size="56" dy="25">2</tspan></text>
<text transform="translate(754.2,1349.3) rotate(-30)">C<tspan font-size="56" dy="25">2</tspan><tspan dy="-25">H</tspan><tspan font-size="56" dy="25">4</tspan></text>
<text transform="translate(851.4,1425.6) rotate(-30)">C<tspan font-size="56" dy="25">2</tspan><tspan dy="-25">H</tspan><tspan font-size="56" dy="25">6</tspan></text>
</g>
<g id="ylabels" font-size="55" text-anchor="start">
<text transform="translate(956.9,1437.4) rotate(30)" fill="#000" font-weight="bold" font-size="53.5">Co-TiO<tspan font-size="42" dy="17">2</tspan><tspan dy="-17">/Ti</tspan></text>
<text transform="translate(1039.2,1383.6) rotate(30)" fill="#ff1a1a">10s Cu</text>
<text transform="translate(1123.8,1329.7) rotate(30)" fill="#ff8000">30s Cu</text>
<text transform="translate(1204.6,1279.7) rotate(30)" fill="#008000">60s Cu</text>
<text transform="translate(1279.5,1229.7) rotate(30)" fill="#ff00ff">120s Cu</text>
<text transform="translate(1356.8,1181.4) rotate(30)" fill="#0000ff">240s Cu</text>
<text transform="translate(1423.4,1141.3) rotate(30)" fill="#4b0092">480s Cu</text>
<text transform="translate(1482.7,1089.6) rotate(30)" fill="#c8c800">960s Cu</text>
</g>
<g id="zlabels" font-size="47" text-anchor="middle">
<text transform="translate(1676.0,304.0) rotate(28)" y="16.5">50</text>
<text transform="translate(1640.0,632.0) rotate(28)" y="16.5">30</text>
<text transform="translate(1584.0,1080.0) rotate(28)" y="16.5">0</text>
</g>
<text transform="translate(1684,1075) rotate(-82)" font-size="86">Conc. (<tspan font-family="DejaVu Sans, Liberation Sans, sans-serif" font-size="86">μ</tspan>mol/mol)</text>
<text x="268" y="340.5" font-size="92">(a)</text>
<text x="649" y="206.5" font-size="91">UVC light, 6 h</text>
<defs>
<linearGradient id="phbg" x1="0" y1="1" x2="1" y2="0"><stop offset="0" stop-color="#171516"/><stop offset="0.5" stop-color="#232021"/><stop offset="0.85" stop-color="#3b3738"/><stop offset="1" stop-color="#454041"/></linearGradient>
<linearGradient id="flange" x1="0" y1="0" x2="1" y2="1"><stop offset="0" stop-color="#cdbba8"/><stop offset="0.3" stop-color="#efe2d6"/><stop offset="0.55" stop-color="#fbf4ee"/><stop offset="0.8" stop-color="#e2d0bf"/><stop offset="1" stop-color="#b9a48e"/></linearGradient>
<linearGradient id="bezel" x1="0" y1="0" x2="1" y2="1"><stop offset="0" stop-color="#fffaf4"/><stop offset="0.5" stop-color="#d9c6b0"/><stop offset="1" stop-color="#f4ece4"/></linearGradient>
<radialGradient id="win" cx="0.42" cy="0.4" r="0.65"><stop offset="0" stop-color="#c9a468"/><stop offset="0.45" stop-color="#a88450"/><stop offset="0.8" stop-color="#86693f"/><stop offset="1" stop-color="#a8916a"/></radialGradient>
<linearGradient id="brass" x1="0" y1="0" x2="0" y2="1"><stop offset="0" stop-color="#c2a67c"/><stop offset="0.45" stop-color="#a38660"/><stop offset="1" stop-color="#6b5638"/></linearGradient>
<linearGradient id="steel" x1="0" y1="0" x2="1" y2="1"><stop offset="0" stop-color="#ffffff"/><stop offset="0.5" stop-color="#c9c4be"/><stop offset="1" stop-color="#8b8680"/></linearGradient>
<linearGradient id="body" x1="0" y1="0" x2="1" y2="0"><stop offset="0" stop-color="#8f8a84"/><stop offset="0.35" stop-color="#e8e4de"/><stop offset="0.7" stop-color="#b9b2a8"/><stop offset="1" stop-color="#8a8278"/></linearGradient>
<clipPath id="phclip"><rect x="1013.5" y="262" width="539.8" height="288.6"/></clipPath>
</defs>
<g id="photo" clip-path="url(#phclip)">
<rect x="1013.5" y="262" width="539.8" height="288.6" fill="url(#phbg)"/>
<ellipse cx="1250" cy="505" rx="120" ry="30" fill="#0c0b0b" opacity="0.55"/>
<g transform="translate(1039.6,304) rotate(25)">
<rect x="0" y="-4" width="42" height="8" rx="3" fill="#cbbcae"/>
<rect x="36" y="-8" width="14" height="16" rx="2" fill="#f0ece8"/>
<rect x="48" y="-12" width="22" height="24" rx="3" fill="#c9bccb"/>
<rect x="66" y="-14" width="8" height="30" rx="2" fill="#efe9e2"/>
<rect x="72" y="-15" width="76" height="31" rx="4" fill="url(#brass)"/>
<rect x="112" y="-15" width="10" height="31" fill="#c9b184" opacity="0.8"/>
<g transform="rotate(-12 95 0)">
<rect x="84" y="-50" width="30" height="62" rx="9" fill="url(#steel)"/>
<rect x="104" y="-30" width="14" height="48" rx="6" fill="#ddd6cc"/>
<rect x="88" y="0" width="22" height="13" rx="3" fill="#1a1a1a"/>
<rect x="108" y="-44" width="9" height="16" rx="3" fill="#111"/>
<circle cx="98" cy="-22" r="6" fill="#8e8a84"/>
</g>
</g>
<g transform="translate(1343,440) rotate(23.5)">
<rect x="0" y="-4" width="14" height="38" rx="2" fill="#f4efe8"/>
<rect x="10" y="-2" width="26" height="36" rx="3" fill="#b39468"/>
<rect x="30" y="-6" width="92" height="44" rx="4" fill="url(#brass)"/>
<rect x="62" y="-6" width="8" height="44" fill="#8a7048" opacity="0.7"/>
<g transform="rotate(-6 80 10)">
<rect x="66" y="-52" width="34" height="86" rx="9" fill="url(#steel)"/>
<rect x="50" y="-22" width="16" height="62" rx="7" fill="#e6e0d6"/>
<rect x="58" y="18" width="36" height="16" rx="3" fill="#1a1a1a"/>
<rect x="52" y="32" width="44" height="9" rx="3" fill="#dcd6ce"/>
<circle cx="84" cy="-8" r="7" fill="#908a82"/>
</g>
<rect x="122" y="-2" width="16" height="38" rx="2" fill="#f6f2ec"/>
<rect x="136" y="2" width="26" height="30" rx="3" fill="#cfc6b8"/>
<rect x="160" y="6" width="14" height="22" rx="2" fill="#bdb3a3"/>
<rect x="172" y="11" width="46" height="10" rx="4" fill="#c9bba9"/>
</g>
<path d="M1183,452 L1186,484 Q1262,520 1340,482 L1345,452 Z" fill="url(#body)"/>
<path d="M1186,478 Q1262,514 1340,476 L1340,484 Q1262,522 1186,486 Z" fill="#6e6a66"/>
<path d="M1216,309 L1312,309 Q1330,312 1344,330 L1362,358 Q1368,372 1366,392 L1362,428 Q1358,448 1340,462 L1300,486 Q1262,498 1226,488 L1192,470 Q1172,452 1168,430 L1162,382 Q1162,364 1172,350 L1194,322 Q1204,310 1216,309 Z" fill="url(#flange)"/>
<ellipse cx="1261.7" cy="395" rx="61" ry="60" fill="url(#bezel)" stroke="#bfae98" stroke-width="1.5"/>
<ellipse cx="1262" cy="397" rx="55" ry="54" fill="#e9dccd"/>
<path d="M1212,378 A52,50 0 0 1 1312,376" fill="none" stroke="#c0504a" stroke-width="1"/>
<ellipse cx="1264" cy="405" rx="54" ry="49" fill="#bda77f"/>
<ellipse cx="1265" cy="408" rx="52" ry="45" fill="url(#win)"/>
<path d="M1220,392 Q1236,366 1262,364 Q1280,366 1290,376 Q1262,372 1244,384 Q1230,394 1224,410 Z" fill="#f3e2bf" opacity="0.8"/>
<path d="M1290,372 Q1310,380 1316,400 Q1300,388 1286,384 Z" fill="#d8d0c0" opacity="0.7"/>
<path d="M1225,430 Q1262,462 1305,432" fill="none" stroke="#b9a6d8" stroke-width="2.5" opacity="0.8"/>
<ellipse cx="1174" cy="391" rx="10" ry="9.5" fill="#f6f2ec" stroke="#b5a999" stroke-width="1.5"/>
<ellipse cx="1174" cy="391" rx="5" ry="4.6" fill="#cfc6b8" stroke="#a89c8c" stroke-width="1"/>
<ellipse cx="1220" cy="462" rx="10" ry="9.5" fill="#f6f2ec" stroke="#b5a999" stroke-width="1.5"/>
<ellipse cx="1220" cy="462" rx="5" ry="4.6" fill="#cfc6b8" stroke="#a89c8c" stroke-width="1"/>
<ellipse cx="1312" cy="456" rx="10" ry="9.5" fill="#f6f2ec" stroke="#b5a999" stroke-width="1.5"/>
<ellipse cx="1312" cy="456" rx="5" ry="4.6" fill="#cfc6b8" stroke="#a89c8c" stroke-width="1"/>
<ellipse cx="1351" cy="383" rx="10" ry="9.5" fill="#f6f2ec" stroke="#b5a999" stroke-width="1.5"/>
<ellipse cx="1351" cy="383" rx="5" ry="4.6" fill="#cfc6b8" stroke="#a89c8c" stroke-width="1"/>
<ellipse cx="1305" cy="318" rx="10" ry="9.5" fill="#f6f2ec" stroke="#b5a999" stroke-width="1.5"/>
<ellipse cx="1305" cy="318" rx="5" ry="4.6" fill="#cfc6b8" stroke="#a89c8c" stroke-width="1"/>
<ellipse cx="1220" cy="322" rx="10" ry="9.5" fill="#f6f2ec" stroke="#b5a999" stroke-width="1.5"/>
<ellipse cx="1220" cy="322" rx="5" ry="4.6" fill="#cfc6b8" stroke="#a89c8c" stroke-width="1"/>
<ellipse cx="1269" cy="500" rx="34" ry="12" fill="#efeae2"/>
<path d="M1235,500 L1235,510 A34,13 0 0 0 1303,510 L1303,500 Z" fill="#d2cabd"/>
<ellipse cx="1269" cy="511" rx="30" ry="10" fill="#a9a195"/>
<ellipse cx="1269" cy="513" rx="17" ry="6" fill="#e8e2d8"/>
</g>
<text x="1409.5" y="319.8" font-size="42" fill="#fff">closed</text>
<text x="1409.5" y="367" font-size="42" fill="#fff">reactor</text>
<text x="1214.5" y="414.6" font-size="27" font-weight="bold" fill="#fff">sample</text>
<g id="sun" fill="#ffff00" stroke="#2a5caa" stroke-width="1.1" transform="translate(1260.3,288.3) scale(1,0.88)">
<polygon points="64.0,0.0 36.8,-7.5 36.8,7.5"/>
<polygon points="45.3,45.3 31.3,20.7 20.7,31.3"/>
<polygon points="0.0,64.0 7.5,36.8 -7.5,36.8"/>
<polygon points="-45.3,45.3 -20.7,31.3 -31.3,20.7"/>
<polygon points="-64.0,0.0 -36.8,7.5 -36.8,-7.5"/>
<polygon points="-45.3,-45.3 -31.3,-20.7 -20.7,-31.3"/>
<polygon points="-0.0,-64.0 -7.5,-36.8 7.5,-36.8"/>
<polygon points="45.3,-45.3 20.7,-31.3 31.3,-20.7"/>
<circle cx="0" cy="0" r="31"/>
</g>
<polygon points="616.1,196.0 624.3,216.9 650.7,216.9 629.3,229.8 637.5,250.6 616.1,237.7 594.7,250.6 602.9,229.8 581.5,216.9 607.9,216.9" fill="url(#starY)" stroke="#000" stroke-width="2" stroke-linejoin="miter"/>
<polygon points="722.8,629.7 731.0,650.6 757.4,650.6 736.0,663.5 744.2,684.3 722.8,671.4 701.4,684.3 709.6,663.5 688.2,650.6 714.6,650.6" fill="url(#starY)" stroke="#000" stroke-width="2" stroke-linejoin="miter"/>
<g id="panel_b">
<rect x="613.0" y="1598.6" width="291.4" height="553.4" fill="#d6d6d6"/>
<path d="M241.0,1817.0 C247.4,1816.6 266.2,1816.9 279.4,1814.4 C292.6,1811.9 306.8,1806.7 320.0,1802.0 C333.2,1797.3 345.9,1792.3 358.7,1786.2 C371.5,1780.1 385.1,1772.7 396.8,1765.2 C408.5,1757.7 419.4,1750.4 428.6,1741.4 C437.8,1732.4 445.1,1719.6 452.0,1711.0 C458.9,1702.4 464.3,1694.8 470.0,1690.0 C475.7,1685.2 480.7,1682.0 486.0,1682.0 C491.3,1682.0 496.3,1684.5 502.0,1690.0 C507.7,1695.5 514.5,1704.8 520.0,1715.0 C525.5,1725.2 530.0,1740.8 535.2,1751.0 C540.4,1761.2 544.8,1767.8 551.1,1776.3 C557.5,1784.8 564.3,1793.5 573.3,1801.7 C582.3,1809.9 592.9,1818.1 605.1,1825.6 C617.3,1833.1 631.5,1841.2 646.3,1846.8 C661.1,1852.3 678.1,1856.4 694.0,1858.9 C709.9,1861.4 726.3,1861.9 741.6,1862.0 C756.9,1862.1 772.6,1860.7 786.0,1859.5 C799.4,1858.3 816.0,1855.8 822.0,1855.0" fill="none" stroke="url(#brickB)" stroke-width="19" stroke-linecap="butt"/>
<rect x="200.6" y="1817.2" width="69.2" height="334.8" fill="#000000" stroke="#000" stroke-width="1.5"/>
<rect x="285.0" y="1786.2" width="68.0" height="365.8" fill="#ff0000" stroke="#5a0000" stroke-width="1.5"/>
<rect x="368.3" y="1865.3" width="68.2" height="286.7" fill="#ff8000" stroke="#5a2a00" stroke-width="1.5"/>
<rect x="452.6" y="1674.4" width="67.0" height="477.6" fill="#008000" stroke="#002a00" stroke-width="1.5"/>
<rect x="535.9" y="1818.9" width="67.6" height="333.1" fill="#ff00ff" stroke="#5a005a" stroke-width="1.5"/>
<rect x="619.4" y="1900.8" width="68.2" height="251.2" fill="#0000ff" stroke="#00004a" stroke-width="1.5"/>
<rect x="702.9" y="1881.4" width="67.9" height="270.6" fill="#9000ff" stroke="#30005a" stroke-width="1.5"/>
<rect x="787.0" y="1852.1" width="67.3" height="299.9" fill="#ffff70" stroke="#4a4a10" stroke-width="1.5"/>
<line x1="235.2" y1="1764.1" x2="235.2" y2="1870.3" stroke="#000" stroke-width="7"/>
<rect x="225.7" y="1760.6" width="19" height="7" rx="3.5" fill="#000"/>
<rect x="225.7" y="1866.8" width="19" height="7" rx="3.5" fill="#000"/>
<line x1="319.0" y1="1771.8" x2="319.0" y2="1800.6" stroke="#000" stroke-width="7"/>
<rect x="309.5" y="1768.3" width="19" height="7" rx="3.5" fill="#000"/>
<rect x="309.5" y="1797.1" width="19" height="7" rx="3.5" fill="#000"/>
<line x1="402.4" y1="1836.0" x2="402.4" y2="1894.7" stroke="#000" stroke-width="7"/>
<rect x="392.9" y="1832.5" width="19" height="7" rx="3.5" fill="#000"/>
<rect x="392.9" y="1891.2" width="19" height="7" rx="3.5" fill="#000"/>
<line x1="486.1" y1="1659.5" x2="486.1" y2="1689.4" stroke="#000" stroke-width="7"/>
<rect x="476.6" y="1656.0" width="19" height="7" rx="3.5" fill="#000"/>
<rect x="476.6" y="1685.9" width="19" height="7" rx="3.5" fill="#000"/>
<line x1="569.7" y1="1792.3" x2="569.7" y2="1845.4" stroke="#000" stroke-width="7"/>
<rect x="560.2" y="1788.8" width="19" height="7" rx="3.5" fill="#000"/>
<rect x="560.2" y="1841.9" width="19" height="7" rx="3.5" fill="#000"/>
<line x1="653.5" y1="1893.6" x2="653.5" y2="1908.0" stroke="#000" stroke-width="7"/>
<rect x="644.0" y="1890.1" width="19" height="7" rx="3.5" fill="#000"/>
<rect x="644.0" y="1904.5" width="19" height="7" rx="3.5" fill="#000"/>
<line x1="736.8" y1="1865.3" x2="736.8" y2="1897.4" stroke="#000" stroke-width="7"/>
<rect x="727.3" y="1861.8" width="19" height="7" rx="3.5" fill="#000"/>
<rect x="727.3" y="1893.9" width="19" height="7" rx="3.5" fill="#000"/>
<line x1="820.6" y1="1845.7" x2="820.6" y2="1858.4" stroke="#000" stroke-width="7"/>
<rect x="811.1" y="1842.2" width="19" height="7" rx="3.5" fill="#000"/>
<rect x="811.1" y="1854.9" width="19" height="7" rx="3.5" fill="#000"/>
<rect x="152.4" y="1598.6" width="752.0" height="553.4" fill="none" stroke="#000" stroke-width="3"/>
<line x1="139.4" y1="2152.0" x2="152.4" y2="2152.0" stroke="#000" stroke-width="3"/>
<text x="135.0" y="2166.5" font-size="41" text-anchor="end">0</text>
<line x1="144.9" y1="2096.7" x2="152.4" y2="2096.7" stroke="#000" stroke-width="2.6"/>
<line x1="139.4" y1="2041.3" x2="152.4" y2="2041.3" stroke="#000" stroke-width="3"/>
<text x="135.0" y="2055.8" font-size="41" text-anchor="end">20</text>
<line x1="144.9" y1="1986.0" x2="152.4" y2="1986.0" stroke="#000" stroke-width="2.6"/>
<line x1="139.4" y1="1930.6" x2="152.4" y2="1930.6" stroke="#000" stroke-width="3"/>
<text x="135.0" y="1945.1" font-size="41" text-anchor="end">40</text>
<line x1="144.9" y1="1875.3" x2="152.4" y2="1875.3" stroke="#000" stroke-width="2.6"/>
<line x1="139.4" y1="1820.0" x2="152.4" y2="1820.0" stroke="#000" stroke-width="3"/>
<text x="135.0" y="1834.5" font-size="41" text-anchor="end">60</text>
<line x1="144.9" y1="1764.6" x2="152.4" y2="1764.6" stroke="#000" stroke-width="2.6"/>
<line x1="139.4" y1="1709.3" x2="152.4" y2="1709.3" stroke="#000" stroke-width="3"/>
<text x="135.0" y="1723.8" font-size="41" text-anchor="end">80</text>
<line x1="144.9" y1="1653.9" x2="152.4" y2="1653.9" stroke="#000" stroke-width="2.6"/>
<line x1="139.4" y1="1598.6" x2="152.4" y2="1598.6" stroke="#000" stroke-width="3"/>
<text x="135.0" y="1613.1" font-size="41" text-anchor="end">100</text>
<line x1="152.4" y1="2152.0" x2="152.4" y2="2165.0" stroke="#000" stroke-width="3"/>
<line x1="234.9" y1="2152.0" x2="234.9" y2="2165.0" stroke="#000" stroke-width="3"/>
<line x1="318.4" y1="2152.0" x2="318.4" y2="2165.0" stroke="#000" stroke-width="3"/>
<line x1="402.5" y1="2152.0" x2="402.5" y2="2165.0" stroke="#000" stroke-width="3"/>
<line x1="486.0" y1="2152.0" x2="486.0" y2="2165.0" stroke="#000" stroke-width="3"/>
<line x1="569.5" y1="2152.0" x2="569.5" y2="2165.0" stroke="#000" stroke-width="3"/>
<line x1="652.7" y1="2152.0" x2="652.7" y2="2165.0" stroke="#000" stroke-width="3"/>
<line x1="736.8" y1="2152.0" x2="736.8" y2="2165.0" stroke="#000" stroke-width="3"/>
<line x1="820.0" y1="2152.0" x2="820.0" y2="2165.0" stroke="#000" stroke-width="3"/>
<line x1="904.4" y1="2152.0" x2="904.4" y2="2165.0" stroke="#000" stroke-width="3"/>
<text x="222.7" y="2204.8" font-size="41" text-anchor="middle">0</text>
<text x="308.3" y="2204.8" font-size="41" text-anchor="middle">10</text>
<text x="392.8" y="2204.8" font-size="41" text-anchor="middle">30</text>
<text x="476.8" y="2204.8" font-size="41" text-anchor="middle">60</text>
<text x="565.4" y="2204.8" font-size="41" text-anchor="middle">120</text>
<text x="644.4" y="2204.8" font-size="41" text-anchor="middle">240</text>
<text x="730.5" y="2204.8" font-size="41" text-anchor="middle">480</text>
<text x="815.3" y="2204.8" font-size="41" text-anchor="middle">960</text>
<text x="296.5" y="2250.5" font-size="54.5" text-anchor="start">Cu thickness (sec)</text>
<text transform="translate(70.5,2083.0) rotate(-90)" font-size="54.5" text-anchor="start">Conc. (<tspan font-family="DejaVu Sans, Liberation Sans, sans-serif" font-size="50">μ</tspan>mol/mol)</text>
<text x="160.0" y="1670.0" font-size="77">(b)</text>
<text x="885.5" y="1670" font-size="65.5" text-anchor="end">MeOH</text>
<polygon points="487.0,1602.7 495.2,1623.6 521.6,1623.6 500.2,1636.5 508.4,1657.3 487.0,1644.4 465.6,1657.3 473.8,1636.5 452.4,1623.6 478.8,1623.6" fill="url(#starY)" stroke="#000" stroke-width="2" stroke-linejoin="miter"/>
</g>
<g id="panel_c">
<rect x="1516.3" y="1597.0" width="294.0" height="555.3" fill="#d6d6d6"/>
<rect x="1103.5" y="1802.5" width="69.5" height="349.8" fill="#000000" stroke="#000" stroke-width="1.5"/>
<rect x="1188.3" y="1806.9" width="68.2" height="345.4" fill="#ff0000" stroke="#5a0000" stroke-width="1.5"/>
<rect x="1271.7" y="1742.5" width="68.3" height="409.8" fill="#ff8000" stroke="#5a2a00" stroke-width="1.5"/>
<rect x="1355.6" y="1756.9" width="68.7" height="395.4" fill="#008000" stroke="#002a00" stroke-width="1.5"/>
<rect x="1439.5" y="1740.3" width="68.9" height="412.0" fill="#ff00ff" stroke="#5a005a" stroke-width="1.5"/>
<rect x="1523.6" y="1875.8" width="68.9" height="276.5" fill="#0000ff" stroke="#00004a" stroke-width="1.5"/>
<rect x="1607.7" y="1832.4" width="68.3" height="319.9" fill="#9000ff" stroke="#30005a" stroke-width="1.5"/>
<rect x="1691.9" y="1883.5" width="68.2" height="268.8" fill="#ffff70" stroke="#4a4a10" stroke-width="1.5"/>
<path d="M1122.0,1808.0 C1128.3,1807.2 1147.0,1805.7 1160.0,1803.0 C1173.0,1800.3 1185.0,1796.8 1200.0,1792.0 C1215.0,1787.2 1233.3,1780.2 1250.0,1774.0 C1266.7,1767.8 1283.3,1759.8 1300.0,1755.0 C1316.7,1750.2 1333.3,1747.0 1350.0,1745.0 C1366.7,1743.0 1385.0,1742.8 1400.0,1743.0 C1415.0,1743.2 1426.7,1742.2 1440.0,1746.0 C1453.3,1749.8 1466.7,1757.0 1480.0,1766.0 C1493.3,1775.0 1506.7,1789.0 1520.0,1800.0 C1533.3,1811.0 1546.7,1822.8 1560.0,1832.0 C1573.3,1841.2 1586.7,1848.7 1600.0,1855.0 C1613.3,1861.3 1625.0,1866.0 1640.0,1870.0 C1655.0,1874.0 1674.2,1877.0 1690.0,1879.0 C1705.8,1881.0 1727.5,1881.5 1735.0,1882.0" fill="none" stroke="url(#brickG)" stroke-width="19" stroke-linecap="butt"/>
<line x1="1138.2" y1="1779.7" x2="1138.2" y2="1825.2" stroke="#000" stroke-width="7"/>
<rect x="1128.8" y="1776.2" width="19" height="7" rx="3.5" fill="#000"/>
<rect x="1128.8" y="1821.7" width="19" height="7" rx="3.5" fill="#000"/>
<line x1="1222.4" y1="1760.3" x2="1222.4" y2="1853.5" stroke="#000" stroke-width="7"/>
<rect x="1212.9" y="1756.8" width="19" height="7" rx="3.5" fill="#000"/>
<rect x="1212.9" y="1850.0" width="19" height="7" rx="3.5" fill="#000"/>
<line x1="1305.8" y1="1730.8" x2="1305.8" y2="1754.1" stroke="#000" stroke-width="7"/>
<rect x="1296.3" y="1727.3" width="19" height="7" rx="3.5" fill="#000"/>
<rect x="1296.3" y="1750.6" width="19" height="7" rx="3.5" fill="#000"/>
<line x1="1389.9" y1="1755.3" x2="1389.9" y2="1758.6" stroke="#000" stroke-width="7"/>
<rect x="1380.4" y="1751.8" width="19" height="7" rx="3.5" fill="#000"/>
<rect x="1380.4" y="1755.1" width="19" height="7" rx="3.5" fill="#000"/>
<line x1="1474.0" y1="1627.0" x2="1474.0" y2="1853.5" stroke="#000" stroke-width="7"/>
<rect x="1464.5" y="1623.5" width="19" height="7" rx="3.5" fill="#000"/>
<rect x="1464.5" y="1850.0" width="19" height="7" rx="3.5" fill="#000"/>
<line x1="1558.0" y1="1868.0" x2="1558.0" y2="1883.5" stroke="#000" stroke-width="7"/>
<rect x="1548.5" y="1864.5" width="19" height="7" rx="3.5" fill="#000"/>
<rect x="1548.5" y="1880.0" width="19" height="7" rx="3.5" fill="#000"/>
<line x1="1641.8" y1="1723.6" x2="1641.8" y2="1941.3" stroke="#000" stroke-width="7"/>
<rect x="1632.3" y="1720.1" width="19" height="7" rx="3.5" fill="#000"/>
<rect x="1632.3" y="1937.8" width="19" height="7" rx="3.5" fill="#000"/>
<line x1="1726.0" y1="1855.8" x2="1726.0" y2="1911.3" stroke="#000" stroke-width="7"/>
<rect x="1716.5" y="1852.3" width="19" height="7" rx="3.5" fill="#000"/>
<rect x="1716.5" y="1907.8" width="19" height="7" rx="3.5" fill="#000"/>
<rect x="1054.9" y="1597.0" width="755.4" height="555.3" fill="none" stroke="#000" stroke-width="3"/>
<line x1="1041.9" y1="2152.3" x2="1054.9" y2="2152.3" stroke="#000" stroke-width="3"/>
<text x="1037.5" y="2166.8" font-size="41" text-anchor="end">0</text>
<line x1="1047.4" y1="2096.8" x2="1054.9" y2="2096.8" stroke="#000" stroke-width="2.6"/>
<line x1="1041.9" y1="2041.2" x2="1054.9" y2="2041.2" stroke="#000" stroke-width="3"/>
<text x="1037.5" y="2055.7" font-size="41" text-anchor="end">10</text>
<line x1="1047.4" y1="1985.7" x2="1054.9" y2="1985.7" stroke="#000" stroke-width="2.6"/>
<line x1="1041.9" y1="1930.2" x2="1054.9" y2="1930.2" stroke="#000" stroke-width="3"/>
<text x="1037.5" y="1944.7" font-size="41" text-anchor="end">20</text>
<line x1="1047.4" y1="1874.7" x2="1054.9" y2="1874.7" stroke="#000" stroke-width="2.6"/>
<line x1="1041.9" y1="1819.1" x2="1054.9" y2="1819.1" stroke="#000" stroke-width="3"/>
<text x="1037.5" y="1833.6" font-size="41" text-anchor="end">30</text>
<line x1="1047.4" y1="1763.6" x2="1054.9" y2="1763.6" stroke="#000" stroke-width="2.6"/>
<line x1="1041.9" y1="1708.1" x2="1054.9" y2="1708.1" stroke="#000" stroke-width="3"/>
<text x="1037.5" y="1722.6" font-size="41" text-anchor="end">40</text>
<line x1="1047.4" y1="1652.5" x2="1054.9" y2="1652.5" stroke="#000" stroke-width="2.6"/>
<line x1="1041.9" y1="1597.0" x2="1054.9" y2="1597.0" stroke="#000" stroke-width="3"/>
<text x="1037.5" y="1611.5" font-size="41" text-anchor="end">50</text>
<line x1="1054.9" y1="2152.3" x2="1054.9" y2="2165.3" stroke="#000" stroke-width="3"/>
<line x1="1137.5" y1="2152.3" x2="1137.5" y2="2165.3" stroke="#000" stroke-width="3"/>
<line x1="1221.6" y1="2152.3" x2="1221.6" y2="2165.3" stroke="#000" stroke-width="3"/>
<line x1="1305.7" y1="2152.3" x2="1305.7" y2="2165.3" stroke="#000" stroke-width="3"/>
<line x1="1389.2" y1="2152.3" x2="1389.2" y2="2165.3" stroke="#000" stroke-width="3"/>
<line x1="1473.5" y1="2152.3" x2="1473.5" y2="2165.3" stroke="#000" stroke-width="3"/>
<line x1="1557.5" y1="2152.3" x2="1557.5" y2="2165.3" stroke="#000" stroke-width="3"/>
<line x1="1641.5" y1="2152.3" x2="1641.5" y2="2165.3" stroke="#000" stroke-width="3"/>
<line x1="1725.5" y1="2152.3" x2="1725.5" y2="2165.3" stroke="#000" stroke-width="3"/>
<line x1="1810.3" y1="2152.3" x2="1810.3" y2="2165.3" stroke="#000" stroke-width="3"/>
<text x="1134.3" y="2204.8" font-size="41" text-anchor="middle">0</text>
<text x="1218.4" y="2204.8" font-size="41" text-anchor="middle">10</text>
<text x="1303.2" y="2204.8" font-size="41" text-anchor="middle">30</text>
<text x="1388.0" y="2204.8" font-size="41" text-anchor="middle">60</text>
<text x="1476.3" y="2204.8" font-size="41" text-anchor="middle">120</text>
<text x="1556.0" y="2204.8" font-size="41" text-anchor="middle">240</text>
<text x="1640.4" y="2204.8" font-size="41" text-anchor="middle">480</text>
<text x="1725.5" y="2204.8" font-size="41" text-anchor="middle">960</text>
<text x="1204.2" y="2250.5" font-size="54.5" text-anchor="start">Cu thickness (sec)</text>
<text transform="translate(973.3,2086.0) rotate(-90)" font-size="54.5" text-anchor="start">Conc. (<tspan font-family="DejaVu Sans, Liberation Sans, sans-serif" font-size="50">μ</tspan>mol/mol)</text>
<text x="1060.0" y="1671.0" font-size="77">(c)</text>
<text x="1786" y="1671.6" font-size="66" text-anchor="end">CO</text>
<polygon points="1385.5,1671.8 1393.7,1692.7 1420.1,1692.7 1398.7,1705.6 1406.9,1726.4 1385.5,1713.5 1364.1,1726.4 1372.3,1705.6 1350.9,1692.7 1377.3,1692.7" fill="url(#starY)" stroke="#000" stroke-width="2" stroke-linejoin="miter"/>
</g>
<g id="panel_d">
<rect x="613.0" y="2281.1" width="289.9" height="553.8" fill="#d6d6d6"/>
<rect x="199.4" y="2602.3" width="69.8" height="232.6" fill="#000000" stroke="#000" stroke-width="1.5"/>
<rect x="284.1" y="2640.0" width="67.6" height="194.9" fill="#ff0000" stroke="#5a0000" stroke-width="1.5"/>
<rect x="366.7" y="2600.1" width="68.2" height="234.8" fill="#ff8000" stroke="#5a2a00" stroke-width="1.5"/>
<rect x="451.1" y="2624.5" width="67.6" height="210.4" fill="#008000" stroke="#002a00" stroke-width="1.5"/>
<rect x="534.3" y="2622.2" width="67.6" height="212.7" fill="#ff00ff" stroke="#5a005a" stroke-width="1.5"/>
<rect x="617.8" y="2682.1" width="67.6" height="152.8" fill="#0000ff" stroke="#00004a" stroke-width="1.5"/>
<rect x="701.9" y="2666.5" width="66.7" height="168.4" fill="#9000ff" stroke="#30005a" stroke-width="1.5"/>
<rect x="785.4" y="2648.8" width="67.3" height="186.1" fill="#ffff70" stroke="#4a4a10" stroke-width="1.5"/>
<path d="M222.0,2610.0 C231.7,2610.3 260.3,2611.7 280.0,2612.0 C299.7,2612.3 320.0,2611.8 340.0,2612.0 C360.0,2612.2 380.0,2612.0 400.0,2613.0 C420.0,2614.0 440.0,2615.5 460.0,2618.0 C480.0,2620.5 500.0,2624.0 520.0,2628.0 C540.0,2632.0 560.0,2637.8 580.0,2642.0 C600.0,2646.2 620.0,2650.3 640.0,2653.0 C660.0,2655.7 680.0,2657.0 700.0,2658.0 C720.0,2659.0 739.0,2659.0 760.0,2659.0 C781.0,2659.0 815.0,2658.2 826.0,2658.0" fill="none" stroke="url(#brickG)" stroke-width="19" stroke-linecap="butt"/>
<line x1="234.3" y1="2597.9" x2="234.3" y2="2606.7" stroke="#000" stroke-width="7"/>
<rect x="224.8" y="2594.4" width="19" height="7" rx="3.5" fill="#000"/>
<rect x="224.8" y="2603.2" width="19" height="7" rx="3.5" fill="#000"/>
<line x1="317.9" y1="2620.0" x2="317.9" y2="2659.9" stroke="#000" stroke-width="7"/>
<rect x="308.4" y="2616.5" width="19" height="7" rx="3.5" fill="#000"/>
<rect x="308.4" y="2656.4" width="19" height="7" rx="3.5" fill="#000"/>
<line x1="400.8" y1="2597.9" x2="400.8" y2="2602.3" stroke="#000" stroke-width="7"/>
<rect x="391.3" y="2594.4" width="19" height="7" rx="3.5" fill="#000"/>
<rect x="391.3" y="2598.8" width="19" height="7" rx="3.5" fill="#000"/>
<line x1="484.9" y1="2600.1" x2="484.9" y2="2648.8" stroke="#000" stroke-width="7"/>
<rect x="475.4" y="2596.6" width="19" height="7" rx="3.5" fill="#000"/>
<rect x="475.4" y="2645.3" width="19" height="7" rx="3.5" fill="#000"/>
<line x1="568.1" y1="2612.3" x2="568.1" y2="2632.2" stroke="#000" stroke-width="7"/>
<rect x="558.6" y="2608.8" width="19" height="7" rx="3.5" fill="#000"/>
<rect x="558.6" y="2628.7" width="19" height="7" rx="3.5" fill="#000"/>
<line x1="651.6" y1="2645.5" x2="651.6" y2="2718.6" stroke="#000" stroke-width="7"/>
<rect x="642.1" y="2642.0" width="19" height="7" rx="3.5" fill="#000"/>
<rect x="642.1" y="2715.1" width="19" height="7" rx="3.5" fill="#000"/>
<line x1="735.2" y1="2663.2" x2="735.2" y2="2669.9" stroke="#000" stroke-width="7"/>
<rect x="725.8" y="2659.7" width="19" height="7" rx="3.5" fill="#000"/>
<rect x="725.8" y="2666.4" width="19" height="7" rx="3.5" fill="#000"/>
<line x1="819.0" y1="2644.4" x2="819.0" y2="2653.3" stroke="#000" stroke-width="7"/>
<rect x="809.5" y="2640.9" width="19" height="7" rx="3.5" fill="#000"/>
<rect x="809.5" y="2649.8" width="19" height="7" rx="3.5" fill="#000"/>
<rect x="151.7" y="2281.1" width="751.2" height="553.8" fill="none" stroke="#000" stroke-width="3"/>
<line x1="138.7" y1="2834.9" x2="151.7" y2="2834.9" stroke="#000" stroke-width="3"/>
<text x="133.0" y="2849.4" font-size="41" text-anchor="end">0</text>
<line x1="144.2" y1="2812.7" x2="151.7" y2="2812.7" stroke="#000" stroke-width="2.6"/>
<line x1="144.2" y1="2790.6" x2="151.7" y2="2790.6" stroke="#000" stroke-width="2.6"/>
<line x1="144.2" y1="2768.4" x2="151.7" y2="2768.4" stroke="#000" stroke-width="2.6"/>
<line x1="144.2" y1="2746.3" x2="151.7" y2="2746.3" stroke="#000" stroke-width="2.6"/>
<line x1="138.7" y1="2724.1" x2="151.7" y2="2724.1" stroke="#000" stroke-width="3"/>
<text x="133.0" y="2738.6" font-size="41" text-anchor="end">5</text>
<line x1="144.2" y1="2702.0" x2="151.7" y2="2702.0" stroke="#000" stroke-width="2.6"/>
<line x1="144.2" y1="2679.8" x2="151.7" y2="2679.8" stroke="#000" stroke-width="2.6"/>
<line x1="144.2" y1="2657.7" x2="151.7" y2="2657.7" stroke="#000" stroke-width="2.6"/>
<line x1="144.2" y1="2635.5" x2="151.7" y2="2635.5" stroke="#000" stroke-width="2.6"/>
<line x1="138.7" y1="2613.4" x2="151.7" y2="2613.4" stroke="#000" stroke-width="3"/>
<text x="133.0" y="2627.9" font-size="41" text-anchor="end">10</text>
<line x1="144.2" y1="2591.2" x2="151.7" y2="2591.2" stroke="#000" stroke-width="2.6"/>
<line x1="144.2" y1="2569.1" x2="151.7" y2="2569.1" stroke="#000" stroke-width="2.6"/>
<line x1="144.2" y1="2546.9" x2="151.7" y2="2546.9" stroke="#000" stroke-width="2.6"/>
<line x1="144.2" y1="2524.8" x2="151.7" y2="2524.8" stroke="#000" stroke-width="2.6"/>
<line x1="138.7" y1="2502.6" x2="151.7" y2="2502.6" stroke="#000" stroke-width="3"/>
<text x="133.0" y="2517.1" font-size="41" text-anchor="end">15</text>
<line x1="144.2" y1="2480.5" x2="151.7" y2="2480.5" stroke="#000" stroke-width="2.6"/>
<line x1="144.2" y1="2458.3" x2="151.7" y2="2458.3" stroke="#000" stroke-width="2.6"/>
<line x1="144.2" y1="2436.2" x2="151.7" y2="2436.2" stroke="#000" stroke-width="2.6"/>
<line x1="144.2" y1="2414.0" x2="151.7" y2="2414.0" stroke="#000" stroke-width="2.6"/>
<line x1="138.7" y1="2391.9" x2="151.7" y2="2391.9" stroke="#000" stroke-width="3"/>
<text x="133.0" y="2406.4" font-size="41" text-anchor="end">20</text>
<line x1="144.2" y1="2369.7" x2="151.7" y2="2369.7" stroke="#000" stroke-width="2.6"/>
<line x1="144.2" y1="2347.6" x2="151.7" y2="2347.6" stroke="#000" stroke-width="2.6"/>
<line x1="144.2" y1="2325.4" x2="151.7" y2="2325.4" stroke="#000" stroke-width="2.6"/>
<line x1="144.2" y1="2303.3" x2="151.7" y2="2303.3" stroke="#000" stroke-width="2.6"/>
<line x1="138.7" y1="2281.1" x2="151.7" y2="2281.1" stroke="#000" stroke-width="3"/>
<text x="133.0" y="2295.6" font-size="41" text-anchor="end">25</text>
<line x1="151.7" y1="2834.9" x2="151.7" y2="2847.9" stroke="#000" stroke-width="3"/>
<line x1="234.0" y1="2834.9" x2="234.0" y2="2847.9" stroke="#000" stroke-width="3"/>
<line x1="317.5" y1="2834.9" x2="317.5" y2="2847.9" stroke="#000" stroke-width="3"/>
<line x1="401.0" y1="2834.9" x2="401.0" y2="2847.9" stroke="#000" stroke-width="3"/>
<line x1="483.8" y1="2834.9" x2="483.8" y2="2847.9" stroke="#000" stroke-width="3"/>
<line x1="567.6" y1="2834.9" x2="567.6" y2="2847.9" stroke="#000" stroke-width="3"/>
<line x1="651.1" y1="2834.9" x2="651.1" y2="2847.9" stroke="#000" stroke-width="3"/>
<line x1="734.6" y1="2834.9" x2="734.6" y2="2847.9" stroke="#000" stroke-width="3"/>
<line x1="817.8" y1="2834.9" x2="817.8" y2="2847.9" stroke="#000" stroke-width="3"/>
<line x1="902.9" y1="2834.9" x2="902.9" y2="2847.9" stroke="#000" stroke-width="3"/>
<text x="225.4" y="2886.7" font-size="41" text-anchor="middle">0</text>
<text x="309.5" y="2886.7" font-size="41" text-anchor="middle">10</text>
<text x="394.3" y="2886.7" font-size="41" text-anchor="middle">30</text>
<text x="478.1" y="2886.7" font-size="41" text-anchor="middle">60</text>
<text x="567.6" y="2886.7" font-size="41" text-anchor="middle">120</text>
<text x="647.6" y="2886.7" font-size="41" text-anchor="middle">240</text>
<text x="732.0" y="2886.7" font-size="41" text-anchor="middle">480</text>
<text x="816.8" y="2886.7" font-size="41" text-anchor="middle">960</text>
<text x="301.6" y="2934.9" font-size="54.5" text-anchor="start">Cu thickness (sec)</text>
<text transform="translate(69.0,2766.0) rotate(-90)" font-size="54.5" text-anchor="start">Conc. (<tspan font-family="DejaVu Sans, Liberation Sans, sans-serif" font-size="50">μ</tspan>mol/mol)</text>
<text x="155.0" y="2353.2" font-size="77">(d)</text>
<text x="765.4" y="2349.4" font-size="66" text-anchor="start">CH<tspan font-size="44" dy="23">4</tspan></text>
<polygon points="223.8,2529.1 232.0,2550.1 258.6,2550.1 237.1,2563.1 245.3,2584.1 223.8,2571.1 202.3,2584.1 210.5,2563.1 189.0,2550.1 215.6,2550.1" fill="url(#starG)" stroke="#000" stroke-width="2" stroke-linejoin="miter"/>
<line x1="227.9" y1="2521.4" x2="790" y2="2601.7" stroke="#5a5aff" stroke-width="6"/>
<polygon points="817.8,2605.7 780.5,2614.5 783.5,2587" fill="#5a5aff"/>
</g>
<g id="panel_e">
<rect x="1523.6" y="2281.1" width="289.9" height="551.6" fill="#d6d6d6"/>
<rect x="1107.3" y="2683.8" width="68.9" height="148.9" fill="#000000" stroke="#000" stroke-width="1.5"/>
<rect x="1190.8" y="2766.5" width="67.9" height="66.2" fill="#ff0000" stroke="#5a0000" stroke-width="1.5"/>
<rect x="1274.0" y="2612.1" width="68.2" height="220.6" fill="#ff8000" stroke="#5a2a00" stroke-width="1.5"/>
<rect x="1357.5" y="2761.0" width="68.3" height="71.7" fill="#008000" stroke="#002a00" stroke-width="1.5"/>
<rect x="1441.1" y="2772.0" width="67.6" height="60.7" fill="#ff00ff" stroke="#5a005a" stroke-width="1.5"/>
<rect x="1524.3" y="2777.5" width="67.6" height="55.2" fill="#0000ff" stroke="#00004a" stroke-width="1.5"/>
<rect x="1607.7" y="2788.6" width="67.3" height="44.1" fill="#9000ff" stroke="#30005a" stroke-width="1.5"/>
<rect x="1690.9" y="2788.6" width="67.6" height="44.1" fill="#ffff70" stroke="#4a4a10" stroke-width="1.5"/>
<path d="M1118.0,2700.0 C1123.3,2700.7 1138.0,2704.0 1150.0,2704.0 C1162.0,2704.0 1176.7,2702.7 1190.0,2700.0 C1203.3,2697.3 1216.7,2692.2 1230.0,2688.0 C1243.3,2683.8 1256.7,2677.0 1270.0,2675.0 C1283.3,2673.0 1296.7,2671.8 1310.0,2676.0 C1323.3,2680.2 1338.3,2691.3 1350.0,2700.0 C1361.7,2708.7 1370.0,2720.0 1380.0,2728.0 C1390.0,2736.0 1398.3,2742.0 1410.0,2748.0 C1421.7,2754.0 1435.0,2760.0 1450.0,2764.0 C1465.0,2768.0 1481.7,2769.5 1500.0,2772.0 C1518.3,2774.5 1540.0,2776.8 1560.0,2779.0 C1580.0,2781.2 1600.0,2783.2 1620.0,2785.0 C1640.0,2786.8 1663.7,2788.8 1680.0,2790.0 C1696.3,2791.2 1711.7,2791.7 1718.0,2792.0" fill="none" stroke="url(#brickG)" stroke-width="19" stroke-linecap="butt"/>
<line x1="1141.8" y1="2603.8" x2="1141.8" y2="2763.8" stroke="#000" stroke-width="7"/>
<rect x="1132.2" y="2600.3" width="19" height="7" rx="3.5" fill="#000"/>
<rect x="1132.2" y="2760.2" width="19" height="7" rx="3.5" fill="#000"/>
<line x1="1224.8" y1="2744.4" x2="1224.8" y2="2788.6" stroke="#000" stroke-width="7"/>
<rect x="1215.2" y="2740.9" width="19" height="7" rx="3.5" fill="#000"/>
<rect x="1215.2" y="2785.1" width="19" height="7" rx="3.5" fill="#000"/>
<line x1="1308.1" y1="2452.1" x2="1308.1" y2="2772.0" stroke="#000" stroke-width="7"/>
<rect x="1298.6" y="2448.6" width="19" height="7" rx="3.5" fill="#000"/>
<rect x="1298.6" y="2768.5" width="19" height="7" rx="3.5" fill="#000"/>
<line x1="1391.7" y1="2748.3" x2="1391.7" y2="2773.7" stroke="#000" stroke-width="7"/>
<rect x="1382.2" y="2744.8" width="19" height="7" rx="3.5" fill="#000"/>
<rect x="1382.2" y="2770.2" width="19" height="7" rx="3.5" fill="#000"/>
<line x1="1474.9" y1="2738.9" x2="1474.9" y2="2805.1" stroke="#000" stroke-width="7"/>
<rect x="1465.4" y="2735.4" width="19" height="7" rx="3.5" fill="#000"/>
<rect x="1465.4" y="2801.6" width="19" height="7" rx="3.5" fill="#000"/>
<line x1="1558.1" y1="2734.5" x2="1558.1" y2="2820.6" stroke="#000" stroke-width="7"/>
<rect x="1548.6" y="2731.0" width="19" height="7" rx="3.5" fill="#000"/>
<rect x="1548.6" y="2817.1" width="19" height="7" rx="3.5" fill="#000"/>
<line x1="1641.3" y1="2777.5" x2="1641.3" y2="2799.6" stroke="#000" stroke-width="7"/>
<rect x="1631.8" y="2774.0" width="19" height="7" rx="3.5" fill="#000"/>
<rect x="1631.8" y="2796.1" width="19" height="7" rx="3.5" fill="#000"/>
<line x1="1724.7" y1="2762.6" x2="1724.7" y2="2814.5" stroke="#000" stroke-width="7"/>
<rect x="1715.2" y="2759.1" width="19" height="7" rx="3.5" fill="#000"/>
<rect x="1715.2" y="2811.0" width="19" height="7" rx="3.5" fill="#000"/>
<rect x="1058.7" y="2281.1" width="749.7" height="551.6" fill="none" stroke="#000" stroke-width="3"/>
<line x1="1045.7" y1="2832.7" x2="1058.7" y2="2832.7" stroke="#000" stroke-width="3"/>
<text x="1043.2" y="2847.2" font-size="41" text-anchor="end">0</text>
<line x1="1051.2" y1="2777.5" x2="1058.7" y2="2777.5" stroke="#000" stroke-width="2.6"/>
<line x1="1045.7" y1="2722.4" x2="1058.7" y2="2722.4" stroke="#000" stroke-width="3"/>
<text x="1043.2" y="2736.9" font-size="41" text-anchor="end">2</text>
<line x1="1051.2" y1="2667.2" x2="1058.7" y2="2667.2" stroke="#000" stroke-width="2.6"/>
<line x1="1045.7" y1="2612.1" x2="1058.7" y2="2612.1" stroke="#000" stroke-width="3"/>
<text x="1043.2" y="2626.6" font-size="41" text-anchor="end">4</text>
<line x1="1051.2" y1="2556.9" x2="1058.7" y2="2556.9" stroke="#000" stroke-width="2.6"/>
<line x1="1045.7" y1="2501.7" x2="1058.7" y2="2501.7" stroke="#000" stroke-width="3"/>
<text x="1043.2" y="2516.2" font-size="41" text-anchor="end">6</text>
<line x1="1051.2" y1="2446.6" x2="1058.7" y2="2446.6" stroke="#000" stroke-width="2.6"/>
<line x1="1045.7" y1="2391.4" x2="1058.7" y2="2391.4" stroke="#000" stroke-width="3"/>
<text x="1043.2" y="2405.9" font-size="41" text-anchor="end">8</text>
<line x1="1051.2" y1="2336.3" x2="1058.7" y2="2336.3" stroke="#000" stroke-width="2.6"/>
<line x1="1045.7" y1="2281.1" x2="1058.7" y2="2281.1" stroke="#000" stroke-width="3"/>
<text x="1043.2" y="2295.6" font-size="41" text-anchor="end">10</text>
<line x1="1058.7" y1="2832.7" x2="1058.7" y2="2845.7" stroke="#000" stroke-width="3"/>
<line x1="1141.3" y1="2832.7" x2="1141.3" y2="2845.7" stroke="#000" stroke-width="3"/>
<line x1="1224.8" y1="2832.7" x2="1224.8" y2="2845.7" stroke="#000" stroke-width="3"/>
<line x1="1307.9" y1="2832.7" x2="1307.9" y2="2845.7" stroke="#000" stroke-width="3"/>
<line x1="1390.8" y1="2832.7" x2="1390.8" y2="2845.7" stroke="#000" stroke-width="3"/>
<line x1="1474.4" y1="2832.7" x2="1474.4" y2="2845.7" stroke="#000" stroke-width="3"/>
<line x1="1557.6" y1="2832.7" x2="1557.6" y2="2845.7" stroke="#000" stroke-width="3"/>
<line x1="1641.1" y1="2832.7" x2="1641.1" y2="2845.7" stroke="#000" stroke-width="3"/>
<line x1="1724.3" y1="2832.7" x2="1724.3" y2="2845.7" stroke="#000" stroke-width="3"/>
<line x1="1808.4" y1="2832.7" x2="1808.4" y2="2845.7" stroke="#000" stroke-width="3"/>
<text x="1139.7" y="2881.9" font-size="41" text-anchor="middle">0</text>
<text x="1223.8" y="2881.9" font-size="41" text-anchor="middle">10</text>
<text x="1308.9" y="2881.9" font-size="41" text-anchor="middle">30</text>
<text x="1394.0" y="2881.9" font-size="41" text-anchor="middle">60</text>
<text x="1474.7" y="2881.9" font-size="41" text-anchor="middle">120</text>
<text x="1558.5" y="2881.9" font-size="41" text-anchor="middle">240</text>
<text x="1646.5" y="2881.9" font-size="41" text-anchor="middle">480</text>
<text x="1730.6" y="2881.9" font-size="41" text-anchor="middle">960</text>
<text x="1205.7" y="2930.2" font-size="54.5" text-anchor="start">Cu thickness (sec)</text>
<text transform="translate(977.0,2766.0) rotate(-90)" font-size="54.5" text-anchor="start">Conc. (<tspan font-family="DejaVu Sans, Liberation Sans, sans-serif" font-size="50">μ</tspan>mol/mol)</text>
<text x="1062.0" y="2352.5" font-size="77">(e)</text>
<text x="1648.4" y="2349.4" font-size="66" text-anchor="start">C<tspan font-size="44" dy="21">2</tspan><tspan dy="-21">H</tspan><tspan font-size="44" dy="21">2</tspan></text>
</g>
</svg>
</body></html>
